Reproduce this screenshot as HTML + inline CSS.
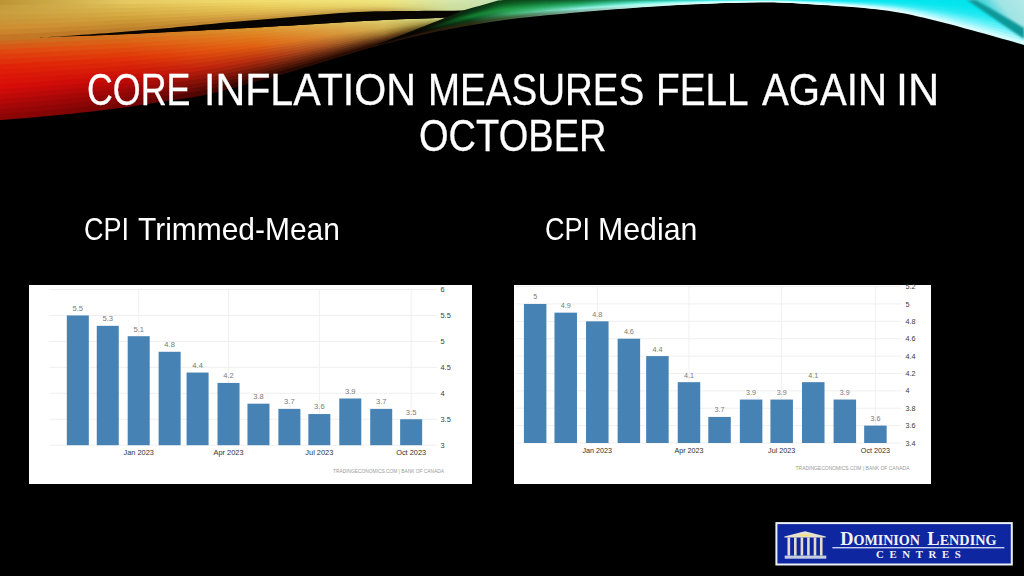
<!DOCTYPE html>
<html><head><meta charset="utf-8">
<style>
html,body{margin:0;padding:0;}
body{width:1024px;height:576px;background:#000;position:relative;overflow:hidden;font-family:"Liberation Sans",sans-serif;}
.abs{position:absolute;}
.title{position:absolute;left:0;width:1024px;text-align:center;color:#fff;font-size:45px;line-height:45px;white-space:nowrap;}
.tw{position:absolute;color:#fff;font-size:45px;line-height:45px;white-space:nowrap;transform-origin:0 0;-webkit-text-stroke:0.3px #fff;}
.sw{position:absolute;color:#fff;font-size:31.5px;line-height:31.5px;white-space:nowrap;transform-origin:0 0;}
.chart{position:absolute;background:#fff;}
</style></head>
<body>
<!--SWOOSH--><svg class="abs" style="left:0;top:0" width="1024" height="130" viewBox="0 0 1024 130"><defs><linearGradient id="g1" gradientUnits="userSpaceOnUse" x1="0" y1="0" x2="450" y2="0"><stop offset="0.0000" stop-color="#cd681d"/><stop offset="0.2844" stop-color="#d3711d"/><stop offset="0.5689" stop-color="#da932d"/><stop offset="0.8533" stop-color="#decd6d"/><stop offset="1.0000" stop-color="#c3d183"/></linearGradient><linearGradient id="g2" gradientUnits="userSpaceOnUse" x1="0" y1="0" x2="450" y2="0"><stop offset="0.0000" stop-color="#d75716"/><stop offset="0.2844" stop-color="#da6416"/><stop offset="0.5689" stop-color="#dd8926"/><stop offset="0.8533" stop-color="#dbc666"/><stop offset="1.0000" stop-color="#b9c479"/></linearGradient><linearGradient id="g3" gradientUnits="userSpaceOnUse" x1="0" y1="0" x2="450" y2="0"><stop offset="0.0000" stop-color="#e04710"/><stop offset="0.2844" stop-color="#e05710"/><stop offset="0.5689" stop-color="#e07f20"/><stop offset="0.8533" stop-color="#d8c060"/><stop offset="1.0000" stop-color="#aeb66e"/></linearGradient><linearGradient id="g4" gradientUnits="userSpaceOnUse" x1="0" y1="0" x2="450" y2="0"><stop offset="0.0000" stop-color="#e03a0d"/><stop offset="0.2844" stop-color="#e04a0d"/><stop offset="0.5689" stop-color="#e0751a"/><stop offset="0.8533" stop-color="#d5ba5a"/><stop offset="1.0000" stop-color="#a0a560"/></linearGradient><linearGradient id="g5" gradientUnits="userSpaceOnUse" x1="0" y1="0" x2="450" y2="0"><stop offset="0.0000" stop-color="#e02e0b"/><stop offset="0.2844" stop-color="#e03e0b"/><stop offset="0.5689" stop-color="#e06b16"/><stop offset="0.8533" stop-color="#d3b656"/><stop offset="1.0000" stop-color="#909350"/></linearGradient><linearGradient id="g6" gradientUnits="userSpaceOnUse" x1="0" y1="0" x2="450" y2="0"><stop offset="0.0000" stop-color="#e02108"/><stop offset="0.2844" stop-color="#e03108"/><stop offset="0.5689" stop-color="#e06110"/><stop offset="0.8533" stop-color="#d0b050"/><stop offset="1.0000" stop-color="#828242"/></linearGradient><linearGradient id="g7" gradientUnits="userSpaceOnUse" x1="0" y1="0" x2="450" y2="0"><stop offset="0.0000" stop-color="#de1c08"/><stop offset="0.2844" stop-color="#db2808"/><stop offset="0.5689" stop-color="#d75510"/><stop offset="0.8533" stop-color="#c5a349"/><stop offset="1.0000" stop-color="#6e6e35"/></linearGradient><linearGradient id="g8" gradientUnits="userSpaceOnUse" x1="0" y1="0" x2="450" y2="0"><stop offset="0.0000" stop-color="#dc1608"/><stop offset="0.2844" stop-color="#d51f08"/><stop offset="0.5689" stop-color="#cd4910"/><stop offset="0.8533" stop-color="#b99541"/><stop offset="1.0000" stop-color="#5a5a29"/></linearGradient><linearGradient id="g9" gradientUnits="userSpaceOnUse" x1="0" y1="0" x2="450" y2="0"><stop offset="0.0000" stop-color="#da1208"/><stop offset="0.2844" stop-color="#cf1608"/><stop offset="0.5689" stop-color="#c33d10"/><stop offset="0.8533" stop-color="#ad8739"/><stop offset="1.0000" stop-color="#46461d"/></linearGradient><linearGradient id="g10" gradientUnits="userSpaceOnUse" x1="0" y1="0" x2="450" y2="0"><stop offset="0.0000" stop-color="#d80c08"/><stop offset="0.2844" stop-color="#c90d08"/><stop offset="0.5689" stop-color="#b93110"/><stop offset="0.8533" stop-color="#a17931"/><stop offset="1.0000" stop-color="#323211"/></linearGradient><linearGradient id="g11" gradientUnits="userSpaceOnUse" x1="0" y1="0" x2="450" y2="0"><stop offset="0.0000" stop-color="#cd0b08"/><stop offset="0.2844" stop-color="#ba0a07"/><stop offset="0.5689" stop-color="#a4290e"/><stop offset="0.8533" stop-color="#8e6629"/><stop offset="1.0000" stop-color="#27270c"/></linearGradient><linearGradient id="g12" gradientUnits="userSpaceOnUse" x1="0" y1="0" x2="450" y2="0"><stop offset="0.0000" stop-color="#c00a08"/><stop offset="0.2844" stop-color="#ac0807"/><stop offset="0.5689" stop-color="#8d220b"/><stop offset="0.8533" stop-color="#7a5222"/><stop offset="1.0000" stop-color="#1d1d07"/></linearGradient><linearGradient id="g13" gradientUnits="userSpaceOnUse" x1="0" y1="0" x2="450" y2="0"><stop offset="0.0000" stop-color="#b40808"/><stop offset="0.2844" stop-color="#9c0706"/><stop offset="0.5689" stop-color="#771a09"/><stop offset="0.8533" stop-color="#663e1a"/><stop offset="1.0000" stop-color="#131302"/></linearGradient><linearGradient id="g14" gradientUnits="userSpaceOnUse" x1="0" y1="0" x2="450" y2="0"><stop offset="0.0000" stop-color="#a70707"/><stop offset="0.2844" stop-color="#8f0606"/><stop offset="0.5689" stop-color="#5f1406"/><stop offset="0.8533" stop-color="#522e13"/><stop offset="1.0000" stop-color="#0d0d00"/></linearGradient><linearGradient id="g15" gradientUnits="userSpaceOnUse" x1="0" y1="0" x2="450" y2="0"><stop offset="0.0000" stop-color="#9b0606"/><stop offset="0.2844" stop-color="#830505"/><stop offset="0.5689" stop-color="#460d04"/><stop offset="0.8533" stop-color="#3e1f0b"/><stop offset="1.0000" stop-color="#080800"/></linearGradient><linearGradient id="g16" gradientUnits="userSpaceOnUse" x1="0" y1="0" x2="450" y2="0"><stop offset="0.0000" stop-color="#8e0505"/><stop offset="0.2844" stop-color="#760404"/><stop offset="0.5689" stop-color="#2c0701"/><stop offset="0.8533" stop-color="#2a1004"/><stop offset="1.0000" stop-color="#020200"/></linearGradient><linearGradient id="g17" gradientUnits="userSpaceOnUse" x1="0" y1="0" x2="520" y2="0"><stop offset="0.0000" stop-color="#bc9434"/><stop offset="0.2462" stop-color="#e5ca62"/><stop offset="0.4923" stop-color="#f2dc6c"/><stop offset="0.7385" stop-color="#efe67e"/><stop offset="0.8654" stop-color="#d7e7ae"/><stop offset="1.0000" stop-color="#c0e0b8"/></linearGradient><linearGradient id="g18" gradientUnits="userSpaceOnUse" x1="0" y1="0" x2="520" y2="0"><stop offset="0.0000" stop-color="#c49c3c"/><stop offset="0.2462" stop-color="#dfbe56"/><stop offset="0.4923" stop-color="#eed464"/><stop offset="0.7385" stop-color="#ede27a"/><stop offset="0.8654" stop-color="#d5e5aa"/><stop offset="1.0000" stop-color="#c0e0b8"/></linearGradient><linearGradient id="g19" gradientUnits="userSpaceOnUse" x1="0" y1="0" x2="520" y2="0"><stop offset="0.0000" stop-color="#c89e3e"/><stop offset="0.2462" stop-color="#dab44c"/><stop offset="0.4923" stop-color="#eacc5c"/><stop offset="0.7385" stop-color="#ebde76"/><stop offset="0.8654" stop-color="#d3e3a6"/><stop offset="1.0000" stop-color="#c0e0b8"/></linearGradient><linearGradient id="g20" gradientUnits="userSpaceOnUse" x1="0" y1="0" x2="520" y2="0"><stop offset="0.0000" stop-color="#c89a3a"/><stop offset="0.2462" stop-color="#d6ac44"/><stop offset="0.4923" stop-color="#e6c454"/><stop offset="0.7385" stop-color="#e9da72"/><stop offset="0.8654" stop-color="#d1e1a2"/><stop offset="1.0000" stop-color="#c0e0b8"/></linearGradient><linearGradient id="g21" gradientUnits="userSpaceOnUse" x1="0" y1="0" x2="520" y2="0"><stop offset="0.0000" stop-color="#ca9436"/><stop offset="0.2462" stop-color="#d1a23c"/><stop offset="0.4923" stop-color="#e1ba4e"/><stop offset="0.7385" stop-color="#e4d26c"/><stop offset="0.8654" stop-color="#cfe09f"/><stop offset="1.0000" stop-color="#c0e0b8"/></linearGradient><linearGradient id="g22" gradientUnits="userSpaceOnUse" x1="0" y1="0" x2="520" y2="0"><stop offset="0.0000" stop-color="#ce8e32"/><stop offset="0.2462" stop-color="#cb9634"/><stop offset="0.4923" stop-color="#dbae4a"/><stop offset="0.7385" stop-color="#dcc664"/><stop offset="0.8654" stop-color="#cde09d"/><stop offset="1.0000" stop-color="#c0e0b8"/></linearGradient><linearGradient id="g23" gradientUnits="userSpaceOnUse" x1="0" y1="0" x2="520" y2="0"><stop offset="0.0000" stop-color="#cc842c"/><stop offset="0.2462" stop-color="#c48a2e"/><stop offset="0.4923" stop-color="#d2a042"/><stop offset="0.7385" stop-color="#d2b85a"/><stop offset="0.8654" stop-color="#cbde9b"/><stop offset="1.0000" stop-color="#c0e0b8"/></linearGradient><linearGradient id="g24" gradientUnits="userSpaceOnUse" x1="0" y1="0" x2="520" y2="0"><stop offset="0.0000" stop-color="#c47624"/><stop offset="0.2462" stop-color="#bc7e2a"/><stop offset="0.4923" stop-color="#c69036"/><stop offset="0.7385" stop-color="#c6a84e"/><stop offset="0.8654" stop-color="#c9da99"/><stop offset="1.0000" stop-color="#c0e0b8"/></linearGradient><linearGradient id="g25" gradientUnits="userSpaceOnUse" x1="378" y1="0" x2="1024" y2="0"><stop offset="0.0000" stop-color="#0e0800"/><stop offset="0.0650" stop-color="#0f0f00"/><stop offset="0.1424" stop-color="#082b11"/><stop offset="0.2074" stop-color="#0b4617"/><stop offset="0.3127" stop-color="#116835"/><stop offset="0.4056" stop-color="#25a779"/><stop offset="0.5294" stop-color="#35e2e2"/><stop offset="0.6842" stop-color="#15e5f1"/><stop offset="0.8080" stop-color="#02e5f0"/><stop offset="1.0000" stop-color="#00e1e9"/></linearGradient><linearGradient id="g26" gradientUnits="userSpaceOnUse" x1="378" y1="0" x2="1024" y2="0"><stop offset="0.0000" stop-color="#0b0700"/><stop offset="0.0650" stop-color="#0d0d00"/><stop offset="0.1424" stop-color="#093012"/><stop offset="0.2074" stop-color="#0d521d"/><stop offset="0.3127" stop-color="#13783e"/><stop offset="0.4056" stop-color="#2eb58b"/><stop offset="0.5294" stop-color="#3ee6e7"/><stop offset="0.6842" stop-color="#1ee7f2"/><stop offset="0.8080" stop-color="#07e6f0"/><stop offset="1.0000" stop-color="#00e2ea"/></linearGradient><linearGradient id="g27" gradientUnits="userSpaceOnUse" x1="378" y1="0" x2="1024" y2="0"><stop offset="0.0000" stop-color="#080600"/><stop offset="0.0650" stop-color="#0a0a00"/><stop offset="0.1424" stop-color="#093513"/><stop offset="0.2074" stop-color="#0e5e22"/><stop offset="0.3127" stop-color="#168847"/><stop offset="0.4056" stop-color="#37c29e"/><stop offset="0.5294" stop-color="#47eaeb"/><stop offset="0.6842" stop-color="#27eaf3"/><stop offset="0.8080" stop-color="#0be7f0"/><stop offset="1.0000" stop-color="#00e3eb"/></linearGradient><linearGradient id="g28" gradientUnits="userSpaceOnUse" x1="378" y1="0" x2="1024" y2="0"><stop offset="0.0000" stop-color="#050500"/><stop offset="0.0650" stop-color="#080800"/><stop offset="0.1424" stop-color="#0a3a14"/><stop offset="0.2074" stop-color="#106a28"/><stop offset="0.3127" stop-color="#189850"/><stop offset="0.4056" stop-color="#40d0b0"/><stop offset="0.5294" stop-color="#50eef0"/><stop offset="0.6842" stop-color="#30ecf4"/><stop offset="0.8080" stop-color="#10e8f0"/><stop offset="1.0000" stop-color="#00e4ec"/></linearGradient><linearGradient id="g29" gradientUnits="userSpaceOnUse" x1="378" y1="0" x2="1024" y2="0"><stop offset="0.0000" stop-color="#040400"/><stop offset="0.0650" stop-color="#070700"/><stop offset="0.1424" stop-color="#0c4e1c"/><stop offset="0.2074" stop-color="#157931"/><stop offset="0.3127" stop-color="#23a362"/><stop offset="0.4056" stop-color="#4ed9be"/><stop offset="0.5294" stop-color="#5ef1f2"/><stop offset="0.6842" stop-color="#42eef5"/><stop offset="0.8080" stop-color="#1ee9f1"/><stop offset="1.0000" stop-color="#05e5ed"/></linearGradient><linearGradient id="g30" gradientUnits="userSpaceOnUse" x1="378" y1="0" x2="1024" y2="0"><stop offset="0.0000" stop-color="#040400"/><stop offset="0.0650" stop-color="#060600"/><stop offset="0.1424" stop-color="#0d6224"/><stop offset="0.2074" stop-color="#19893a"/><stop offset="0.3127" stop-color="#2faf75"/><stop offset="0.4056" stop-color="#5be2cb"/><stop offset="0.5294" stop-color="#6bf4f5"/><stop offset="0.6842" stop-color="#55f1f6"/><stop offset="0.8080" stop-color="#2beaf2"/><stop offset="1.0000" stop-color="#09e6ee"/></linearGradient><linearGradient id="g31" gradientUnits="userSpaceOnUse" x1="378" y1="0" x2="1024" y2="0"><stop offset="0.0000" stop-color="#030300"/><stop offset="0.0650" stop-color="#050500"/><stop offset="0.1424" stop-color="#0f762c"/><stop offset="0.2074" stop-color="#1e9843"/><stop offset="0.3127" stop-color="#3aba87"/><stop offset="0.4056" stop-color="#69ebd9"/><stop offset="0.5294" stop-color="#79f7f7"/><stop offset="0.6842" stop-color="#67f3f7"/><stop offset="0.8080" stop-color="#39ebf3"/><stop offset="1.0000" stop-color="#0ee7ef"/></linearGradient><linearGradient id="g32" gradientUnits="userSpaceOnUse" x1="378" y1="0" x2="1024" y2="0"><stop offset="0.0000" stop-color="#030300"/><stop offset="0.0650" stop-color="#060500"/><stop offset="0.1424" stop-color="#0f772d"/><stop offset="0.2074" stop-color="#25a24e"/><stop offset="0.3127" stop-color="#4bc79b"/><stop offset="0.4056" stop-color="#79f2e2"/><stop offset="0.5294" stop-color="#89f9f9"/><stop offset="0.6842" stop-color="#79f5f9"/><stop offset="0.8080" stop-color="#4eeef6"/><stop offset="1.0000" stop-color="#1be9f1"/></linearGradient><linearGradient id="g33" gradientUnits="userSpaceOnUse" x1="378" y1="0" x2="1024" y2="0"><stop offset="0.0000" stop-color="#040300"/><stop offset="0.0650" stop-color="#070500"/><stop offset="0.1424" stop-color="#0d6526"/><stop offset="0.2074" stop-color="#2ea759"/><stop offset="0.3127" stop-color="#62d5b2"/><stop offset="0.4056" stop-color="#8bf6e7"/><stop offset="0.5294" stop-color="#9bfbfb"/><stop offset="0.6842" stop-color="#8bf7fb"/><stop offset="0.8080" stop-color="#69f1f9"/><stop offset="1.0000" stop-color="#32ebf3"/></linearGradient><linearGradient id="g34" gradientUnits="userSpaceOnUse" x1="378" y1="0" x2="1024" y2="0"><stop offset="0.0000" stop-color="#040300"/><stop offset="0.0650" stop-color="#090500"/><stop offset="0.1424" stop-color="#0c521f"/><stop offset="0.2074" stop-color="#37ab65"/><stop offset="0.3127" stop-color="#79e2c9"/><stop offset="0.4056" stop-color="#9efbeb"/><stop offset="0.5294" stop-color="#aefdfd"/><stop offset="0.6842" stop-color="#9efafd"/><stop offset="0.8080" stop-color="#85f5fc"/><stop offset="1.0000" stop-color="#49eef6"/></linearGradient><linearGradient id="g35" gradientUnits="userSpaceOnUse" x1="378" y1="0" x2="1024" y2="0"><stop offset="0.0000" stop-color="#050300"/><stop offset="0.0650" stop-color="#0a0500"/><stop offset="0.1424" stop-color="#0a4018"/><stop offset="0.2074" stop-color="#40b070"/><stop offset="0.3127" stop-color="#90f0e0"/><stop offset="0.4056" stop-color="#b0fff0"/><stop offset="0.5294" stop-color="#c0ffff"/><stop offset="0.6842" stop-color="#b0fcff"/><stop offset="0.8080" stop-color="#a0f8ff"/><stop offset="1.0000" stop-color="#60f0f8"/></linearGradient><linearGradient id="g36" gradientUnits="userSpaceOnUse" x1="378" y1="0" x2="1024" y2="0"><stop offset="0.0000" stop-color="#0d0702"/><stop offset="0.0650" stop-color="#150a02"/><stop offset="0.1424" stop-color="#153916"/><stop offset="0.2074" stop-color="#409760"/><stop offset="0.3127" stop-color="#8bdece"/><stop offset="0.4056" stop-color="#b5fbee"/><stop offset="0.5294" stop-color="#c9ffff"/><stop offset="0.6842" stop-color="#c0fdff"/><stop offset="0.8080" stop-color="#b5faff"/><stop offset="1.0000" stop-color="#85f4fa"/></linearGradient><linearGradient id="g37" gradientUnits="userSpaceOnUse" x1="378" y1="0" x2="1024" y2="0"><stop offset="0.0000" stop-color="#140a05"/><stop offset="0.0650" stop-color="#201005"/><stop offset="0.1424" stop-color="#203213"/><stop offset="0.2074" stop-color="#407e50"/><stop offset="0.3127" stop-color="#87cbbb"/><stop offset="0.4056" stop-color="#b9f6eb"/><stop offset="0.5294" stop-color="#d2ffff"/><stop offset="0.6842" stop-color="#d0feff"/><stop offset="0.8080" stop-color="#c9fcff"/><stop offset="1.0000" stop-color="#a9f9fc"/></linearGradient><linearGradient id="g38" gradientUnits="userSpaceOnUse" x1="378" y1="0" x2="1024" y2="0"><stop offset="0.0000" stop-color="#1c0e07"/><stop offset="0.0650" stop-color="#2b1507"/><stop offset="0.1424" stop-color="#2b2b11"/><stop offset="0.2074" stop-color="#406540"/><stop offset="0.3127" stop-color="#82b9a9"/><stop offset="0.4056" stop-color="#bef2e9"/><stop offset="0.5294" stop-color="#dbffff"/><stop offset="0.6842" stop-color="#e0ffff"/><stop offset="0.8080" stop-color="#defeff"/><stop offset="1.0000" stop-color="#cefdfe"/></linearGradient><linearGradient id="corner" gradientUnits="userSpaceOnUse" x1="1000" y1="20" x2="1024" y2="0"><stop offset="0" stop-color="#50d8dc"/><stop offset="0.35" stop-color="#a0e4e4"/><stop offset="1" stop-color="#b4e8e8"/></linearGradient><filter id="blur3" x="-5%" y="-100%" width="110%" height="300%"><feGaussianBlur stdDeviation="2.5"/></filter><filter id="blur1" x="-5%" y="-50%" width="110%" height="200%"><feGaussianBlur stdDeviation="1.2"/></filter></defs><path d="M0.0 39.60 L8.0 39.19 L16.0 38.78 L24.0 38.39 L32.0 38.00 L40.0 37.63 L48.0 37.27 L56.0 36.92 L64.0 36.59 L72.0 36.27 L80.0 35.95 L88.0 35.64 L96.0 35.33 L104.0 35.01 L112.0 34.69 L120.0 34.35 L128.0 34.00 L136.0 33.64 L144.0 33.26 L152.0 32.89 L160.0 32.50 L168.0 32.11 L176.0 31.71 L184.0 31.31 L192.0 30.90 L200.0 30.49 L208.0 30.07 L216.0 29.65 L224.0 29.22 L232.0 28.80 L240.0 28.37 L248.0 27.93 L256.0 27.50 L264.0 27.06 L272.0 26.59 L280.0 26.12 L288.0 25.63 L296.0 25.13 L304.0 24.63 L312.0 24.13 L320.0 23.63 L328.0 23.13 L336.0 22.64 L344.0 22.16 L352.0 21.69 L360.0 21.23 L368.0 20.80 L376.0 20.39 L384.0 20.00 L392.0 19.65 L400.0 19.34 L408.0 19.05 L416.0 18.77 L424.0 18.48 L432.0 18.16 L440.0 17.80 L448.0 17.39 L450.0 17.27 L450.0 18.94 L448.0 19.08 L440.0 19.56 L432.0 20.00 L424.0 20.41 L416.0 20.79 L408.0 21.17 L400.0 21.57 L392.0 21.98 L384.0 22.44 L376.0 22.93 L368.0 23.46 L360.0 24.02 L352.0 24.59 L344.0 25.19 L336.0 25.79 L328.0 26.41 L320.0 27.03 L312.0 27.65 L304.0 28.27 L296.0 28.89 L288.0 29.51 L280.0 30.11 L272.0 30.70 L264.0 31.27 L256.0 31.83 L248.0 32.37 L240.0 32.91 L232.0 33.44 L224.0 33.98 L216.0 34.51 L208.0 35.02 L200.0 35.52 L192.0 35.99 L184.0 36.45 L176.0 36.90 L168.0 37.34 L160.0 37.78 L152.0 38.22 L144.0 38.66 L136.0 39.09 L128.0 39.50 L120.0 39.90 L112.0 40.28 L104.0 40.64 L96.0 41.00 L88.0 41.35 L80.0 41.70 L72.0 42.04 L64.0 42.40 L56.0 42.76 L48.0 43.13 L40.0 43.51 L32.0 43.91 L24.0 44.31 L16.0 44.72 L8.0 45.14 L0.0 45.56Z" fill="url(#g1)"/><path d="M0.0 44.56 L8.0 44.14 L16.0 43.72 L24.0 43.31 L32.0 42.91 L40.0 42.51 L48.0 42.13 L56.0 41.76 L64.0 41.40 L72.0 41.04 L80.0 40.70 L88.0 40.35 L96.0 40.00 L104.0 39.64 L112.0 39.28 L120.0 38.90 L128.0 38.50 L136.0 38.09 L144.0 37.66 L152.0 37.22 L160.0 36.78 L168.0 36.34 L176.0 35.90 L184.0 35.45 L192.0 34.99 L200.0 34.52 L208.0 34.02 L216.0 33.51 L224.0 32.98 L232.0 32.44 L240.0 31.91 L248.0 31.37 L256.0 30.83 L264.0 30.27 L272.0 29.70 L280.0 29.11 L288.0 28.51 L296.0 27.89 L304.0 27.27 L312.0 26.65 L320.0 26.03 L328.0 25.41 L336.0 24.79 L344.0 24.19 L352.0 23.59 L360.0 23.02 L368.0 22.46 L376.0 21.93 L384.0 21.44 L392.0 20.98 L400.0 20.57 L408.0 20.17 L416.0 19.79 L424.0 19.41 L432.0 19.00 L440.0 18.56 L448.0 18.08 L450.0 17.94 L450.0 19.61 L448.0 19.76 L440.0 20.32 L432.0 20.84 L424.0 21.34 L416.0 21.82 L408.0 22.30 L400.0 22.79 L392.0 23.31 L384.0 23.88 L376.0 24.48 L368.0 25.12 L360.0 25.80 L352.0 26.50 L344.0 27.22 L336.0 27.95 L328.0 28.69 L320.0 29.42 L312.0 30.16 L304.0 30.91 L296.0 31.65 L288.0 32.38 L280.0 33.10 L272.0 33.80 L264.0 34.49 L256.0 35.15 L248.0 35.80 L240.0 36.45 L232.0 37.09 L224.0 37.74 L216.0 38.37 L208.0 38.98 L200.0 39.55 L192.0 40.09 L184.0 40.60 L176.0 41.09 L168.0 41.57 L160.0 42.06 L152.0 42.56 L144.0 43.05 L136.0 43.54 L128.0 44.00 L120.0 44.44 L112.0 44.86 L104.0 45.27 L96.0 45.67 L88.0 46.06 L80.0 46.44 L72.0 46.82 L64.0 47.20 L56.0 47.59 L48.0 47.99 L40.0 48.40 L32.0 48.81 L24.0 49.23 L16.0 49.66 L8.0 50.09 L0.0 50.53Z" fill="url(#g2)"/><path d="M0.0 49.53 L8.0 49.09 L16.0 48.66 L24.0 48.23 L32.0 47.81 L40.0 47.40 L48.0 46.99 L56.0 46.59 L64.0 46.20 L72.0 45.82 L80.0 45.44 L88.0 45.06 L96.0 44.67 L104.0 44.27 L112.0 43.86 L120.0 43.44 L128.0 43.00 L136.0 42.54 L144.0 42.05 L152.0 41.56 L160.0 41.06 L168.0 40.57 L176.0 40.09 L184.0 39.60 L192.0 39.09 L200.0 38.55 L208.0 37.98 L216.0 37.37 L224.0 36.74 L232.0 36.09 L240.0 35.45 L248.0 34.80 L256.0 34.15 L264.0 33.49 L272.0 32.80 L280.0 32.10 L288.0 31.38 L296.0 30.65 L304.0 29.91 L312.0 29.16 L320.0 28.42 L328.0 27.69 L336.0 26.95 L344.0 26.22 L352.0 25.50 L360.0 24.80 L368.0 24.12 L376.0 23.48 L384.0 22.88 L392.0 22.31 L400.0 21.79 L408.0 21.30 L416.0 20.82 L424.0 20.34 L432.0 19.84 L440.0 19.32 L448.0 18.76 L450.0 18.61 L450.0 20.28 L448.0 20.45 L440.0 21.08 L432.0 21.68 L424.0 22.26 L416.0 22.84 L408.0 23.42 L400.0 24.02 L392.0 24.65 L384.0 25.31 L376.0 26.03 L368.0 26.79 L360.0 27.58 L352.0 28.40 L344.0 29.25 L336.0 30.10 L328.0 30.96 L320.0 31.82 L312.0 32.68 L304.0 33.55 L296.0 34.41 L288.0 35.26 L280.0 36.09 L272.0 36.91 L264.0 37.70 L256.0 38.48 L248.0 39.24 L240.0 39.99 L232.0 40.74 L224.0 41.49 L216.0 42.23 L208.0 42.93 L200.0 43.58 L192.0 44.18 L184.0 44.74 L176.0 45.28 L168.0 45.81 L160.0 46.34 L152.0 46.89 L144.0 47.45 L136.0 47.99 L128.0 48.50 L120.0 48.99 L112.0 49.45 L104.0 49.90 L96.0 50.34 L88.0 50.76 L80.0 51.18 L72.0 51.60 L64.0 52.01 L56.0 52.43 L48.0 52.85 L40.0 53.28 L32.0 53.72 L24.0 54.16 L16.0 54.60 L8.0 55.04 L0.0 55.49Z" fill="url(#g3)"/><path d="M0.0 54.49 L8.0 54.04 L16.0 53.60 L24.0 53.16 L32.0 52.72 L40.0 52.28 L48.0 51.85 L56.0 51.43 L64.0 51.01 L72.0 50.60 L80.0 50.18 L88.0 49.76 L96.0 49.34 L104.0 48.90 L112.0 48.45 L120.0 47.99 L128.0 47.50 L136.0 46.99 L144.0 46.45 L152.0 45.89 L160.0 45.34 L168.0 44.81 L176.0 44.28 L184.0 43.74 L192.0 43.18 L200.0 42.58 L208.0 41.93 L216.0 41.23 L224.0 40.49 L232.0 39.74 L240.0 38.99 L248.0 38.24 L256.0 37.48 L264.0 36.70 L272.0 35.91 L280.0 35.09 L288.0 34.26 L296.0 33.41 L304.0 32.55 L312.0 31.68 L320.0 30.82 L328.0 29.96 L336.0 29.10 L344.0 28.25 L352.0 27.40 L360.0 26.58 L368.0 25.79 L376.0 25.03 L384.0 24.31 L392.0 23.65 L400.0 23.02 L408.0 22.42 L416.0 21.84 L424.0 21.26 L432.0 20.68 L440.0 20.08 L448.0 19.45 L450.0 19.28 L450.0 20.95 L448.0 21.14 L440.0 21.84 L432.0 22.52 L424.0 23.19 L416.0 23.87 L408.0 24.55 L400.0 25.25 L392.0 25.98 L384.0 26.75 L376.0 27.57 L368.0 28.45 L360.0 29.36 L352.0 30.31 L344.0 31.28 L336.0 32.26 L328.0 33.24 L320.0 34.22 L312.0 35.20 L304.0 36.19 L296.0 37.17 L288.0 38.14 L280.0 39.09 L272.0 40.01 L264.0 40.92 L256.0 41.81 L248.0 42.67 L240.0 43.53 L232.0 44.38 L224.0 45.25 L216.0 46.09 L208.0 46.89 L200.0 47.62 L192.0 48.27 L184.0 48.88 L176.0 49.47 L168.0 50.04 L160.0 50.63 L152.0 51.23 L144.0 51.84 L136.0 52.44 L128.0 53.00 L120.0 53.53 L112.0 54.04 L104.0 54.53 L96.0 55.01 L88.0 55.47 L80.0 55.93 L72.0 56.37 L64.0 56.82 L56.0 57.26 L48.0 57.71 L40.0 58.16 L32.0 58.62 L24.0 59.08 L16.0 59.54 L8.0 60.00 L0.0 60.45Z" fill="url(#g4)"/><path d="M0.0 59.45 L8.0 59.00 L16.0 58.54 L24.0 58.08 L32.0 57.62 L40.0 57.16 L48.0 56.71 L56.0 56.26 L64.0 55.82 L72.0 55.37 L80.0 54.93 L88.0 54.47 L96.0 54.01 L104.0 53.53 L112.0 53.04 L120.0 52.53 L128.0 52.00 L136.0 51.44 L144.0 50.84 L152.0 50.23 L160.0 49.63 L168.0 49.04 L176.0 48.47 L184.0 47.88 L192.0 47.27 L200.0 46.62 L208.0 45.89 L216.0 45.09 L224.0 44.25 L232.0 43.38 L240.0 42.53 L248.0 41.67 L256.0 40.81 L264.0 39.92 L272.0 39.01 L280.0 38.09 L288.0 37.14 L296.0 36.17 L304.0 35.19 L312.0 34.20 L320.0 33.22 L328.0 32.24 L336.0 31.26 L344.0 30.28 L352.0 29.31 L360.0 28.36 L368.0 27.45 L376.0 26.57 L384.0 25.75 L392.0 24.98 L400.0 24.25 L408.0 23.55 L416.0 22.87 L424.0 22.19 L432.0 21.52 L440.0 20.84 L448.0 20.14 L450.0 19.95 L450.0 21.62 L448.0 21.82 L440.0 22.60 L432.0 23.36 L424.0 24.12 L416.0 24.89 L408.0 25.67 L400.0 26.47 L392.0 27.31 L384.0 28.19 L376.0 29.12 L368.0 30.11 L360.0 31.14 L352.0 32.21 L344.0 33.31 L336.0 34.41 L328.0 35.52 L320.0 36.62 L312.0 37.72 L304.0 38.82 L296.0 39.93 L288.0 41.02 L280.0 42.08 L272.0 43.12 L264.0 44.14 L256.0 45.13 L248.0 46.11 L240.0 47.06 L232.0 48.03 L224.0 49.00 L216.0 49.95 L208.0 50.84 L200.0 51.65 L192.0 52.37 L184.0 53.03 L176.0 53.65 L168.0 54.27 L160.0 54.91 L152.0 55.57 L144.0 56.23 L136.0 56.89 L128.0 57.50 L120.0 58.08 L112.0 58.63 L104.0 59.16 L96.0 59.68 L88.0 60.18 L80.0 60.67 L72.0 61.15 L64.0 61.62 L56.0 62.10 L48.0 62.57 L40.0 63.05 L32.0 63.53 L24.0 64.00 L16.0 64.48 L8.0 64.95 L0.0 65.41Z" fill="url(#g5)"/><path d="M0.0 64.41 L8.0 63.95 L16.0 63.48 L24.0 63.00 L32.0 62.53 L40.0 62.05 L48.0 61.57 L56.0 61.10 L64.0 60.62 L72.0 60.15 L80.0 59.67 L88.0 59.18 L96.0 58.68 L104.0 58.16 L112.0 57.63 L120.0 57.08 L128.0 56.50 L136.0 55.89 L144.0 55.23 L152.0 54.57 L160.0 53.91 L168.0 53.27 L176.0 52.65 L184.0 52.03 L192.0 51.37 L200.0 50.65 L208.0 49.84 L216.0 48.95 L224.0 48.00 L232.0 47.03 L240.0 46.06 L248.0 45.11 L256.0 44.13 L264.0 43.14 L272.0 42.12 L280.0 41.08 L288.0 40.02 L296.0 38.93 L304.0 37.82 L312.0 36.72 L320.0 35.62 L328.0 34.52 L336.0 33.41 L344.0 32.31 L352.0 31.21 L360.0 30.14 L368.0 29.11 L376.0 28.12 L384.0 27.19 L392.0 26.31 L400.0 25.47 L408.0 24.67 L416.0 23.89 L424.0 23.12 L432.0 22.36 L440.0 21.60 L448.0 20.82 L450.0 20.62 L450.0 22.29 L448.0 22.51 L440.0 23.36 L432.0 24.20 L424.0 25.05 L416.0 25.91 L408.0 26.79 L400.0 27.70 L392.0 28.64 L384.0 29.62 L376.0 30.67 L368.0 31.77 L360.0 32.93 L352.0 34.12 L344.0 35.34 L336.0 36.57 L328.0 37.80 L320.0 39.02 L312.0 40.23 L304.0 41.46 L296.0 42.68 L288.0 43.89 L280.0 45.07 L272.0 46.22 L264.0 47.35 L256.0 48.46 L248.0 49.54 L240.0 50.60 L232.0 51.68 L224.0 52.76 L216.0 53.81 L208.0 54.79 L200.0 55.68 L192.0 56.46 L184.0 57.17 L176.0 57.84 L168.0 58.51 L160.0 59.19 L152.0 59.90 L144.0 60.63 L136.0 61.34 L128.0 62.00 L120.0 62.62 L112.0 63.22 L104.0 63.79 L96.0 64.35 L88.0 64.89 L80.0 65.41 L72.0 65.93 L64.0 66.43 L56.0 66.93 L48.0 67.43 L40.0 67.93 L32.0 68.43 L24.0 68.93 L16.0 69.42 L8.0 69.90 L0.0 70.38Z" fill="url(#g6)"/><path d="M0.0 69.38 L8.0 68.90 L16.0 68.42 L24.0 67.93 L32.0 67.43 L40.0 66.93 L48.0 66.43 L56.0 65.93 L64.0 65.43 L72.0 64.93 L80.0 64.41 L88.0 63.89 L96.0 63.35 L104.0 62.79 L112.0 62.22 L120.0 61.62 L128.0 61.00 L136.0 60.34 L144.0 59.63 L152.0 58.90 L160.0 58.19 L168.0 57.51 L176.0 56.84 L184.0 56.17 L192.0 55.46 L200.0 54.68 L208.0 53.79 L216.0 52.81 L224.0 51.76 L232.0 50.68 L240.0 49.60 L248.0 48.54 L256.0 47.46 L264.0 46.35 L272.0 45.22 L280.0 44.07 L288.0 42.89 L296.0 41.68 L304.0 40.46 L312.0 39.23 L320.0 38.02 L328.0 36.80 L336.0 35.57 L344.0 34.34 L352.0 33.12 L360.0 31.93 L368.0 30.77 L376.0 29.67 L384.0 28.62 L392.0 27.64 L400.0 26.70 L408.0 25.79 L416.0 24.91 L424.0 24.05 L432.0 23.20 L440.0 22.36 L448.0 21.51 L450.0 21.29 L450.0 22.96 L448.0 23.20 L440.0 24.12 L432.0 25.05 L424.0 25.98 L416.0 26.94 L408.0 27.92 L400.0 28.93 L392.0 29.97 L384.0 31.06 L376.0 32.21 L368.0 33.43 L360.0 34.71 L352.0 36.02 L344.0 37.37 L336.0 38.72 L328.0 40.08 L320.0 41.42 L312.0 42.75 L304.0 44.10 L296.0 45.44 L288.0 46.77 L280.0 48.07 L272.0 49.33 L264.0 50.57 L256.0 51.78 L248.0 52.97 L240.0 54.14 L232.0 55.32 L224.0 56.51 L216.0 57.67 L208.0 58.75 L200.0 59.71 L192.0 60.55 L184.0 61.31 L176.0 62.03 L168.0 62.74 L160.0 63.47 L152.0 64.24 L144.0 65.02 L136.0 65.79 L128.0 66.50 L120.0 67.17 L112.0 67.81 L104.0 68.42 L96.0 69.02 L88.0 69.59 L80.0 70.16 L72.0 70.70 L64.0 71.24 L56.0 71.77 L48.0 72.29 L40.0 72.82 L32.0 73.34 L24.0 73.85 L16.0 74.36 L8.0 74.85 L0.0 75.34Z" fill="url(#g7)"/><path d="M0.0 74.34 L8.0 73.85 L16.0 73.36 L24.0 72.85 L32.0 72.34 L40.0 71.82 L48.0 71.29 L56.0 70.77 L64.0 70.24 L72.0 69.70 L80.0 69.16 L88.0 68.59 L96.0 68.02 L104.0 67.42 L112.0 66.81 L120.0 66.17 L128.0 65.50 L136.0 64.79 L144.0 64.02 L152.0 63.24 L160.0 62.47 L168.0 61.74 L176.0 61.03 L184.0 60.31 L192.0 59.55 L200.0 58.71 L208.0 57.75 L216.0 56.67 L224.0 55.51 L232.0 54.32 L240.0 53.14 L248.0 51.97 L256.0 50.78 L264.0 49.57 L272.0 48.33 L280.0 47.07 L288.0 45.77 L296.0 44.44 L304.0 43.10 L312.0 41.75 L320.0 40.42 L328.0 39.08 L336.0 37.72 L344.0 36.37 L352.0 35.02 L360.0 33.71 L368.0 32.43 L376.0 31.21 L384.0 30.06 L392.0 28.97 L400.0 27.93 L408.0 26.92 L416.0 25.94 L424.0 24.98 L432.0 24.05 L440.0 23.12 L448.0 22.20 L450.0 21.96 L450.0 23.63 L448.0 23.88 L440.0 24.88 L432.0 25.89 L424.0 26.91 L416.0 27.96 L408.0 29.04 L400.0 30.15 L392.0 31.31 L384.0 32.50 L376.0 33.76 L368.0 35.10 L360.0 36.49 L352.0 37.93 L344.0 39.40 L336.0 40.88 L328.0 42.35 L320.0 43.81 L312.0 45.27 L304.0 46.74 L296.0 48.20 L288.0 49.65 L280.0 51.06 L272.0 52.44 L264.0 53.79 L256.0 55.11 L248.0 56.41 L240.0 57.68 L232.0 58.97 L224.0 60.27 L216.0 61.53 L208.0 62.70 L200.0 63.74 L192.0 64.64 L184.0 65.46 L176.0 66.22 L168.0 66.97 L160.0 67.75 L152.0 68.58 L144.0 69.42 L136.0 70.24 L128.0 71.00 L120.0 71.71 L112.0 72.39 L104.0 73.05 L96.0 73.69 L88.0 74.30 L80.0 74.90 L72.0 75.48 L64.0 76.04 L56.0 76.60 L48.0 77.15 L40.0 77.70 L32.0 78.24 L24.0 78.77 L16.0 79.30 L8.0 79.80 L0.0 80.30Z" fill="url(#g8)"/><path d="M0.0 79.30 L8.0 78.80 L16.0 78.30 L24.0 77.77 L32.0 77.24 L40.0 76.70 L48.0 76.15 L56.0 75.60 L64.0 75.04 L72.0 74.48 L80.0 73.90 L88.0 73.30 L96.0 72.69 L104.0 72.05 L112.0 71.39 L120.0 70.71 L128.0 70.00 L136.0 69.24 L144.0 68.42 L152.0 67.58 L160.0 66.75 L168.0 65.97 L176.0 65.22 L184.0 64.46 L192.0 63.64 L200.0 62.74 L208.0 61.70 L216.0 60.53 L224.0 59.27 L232.0 57.97 L240.0 56.68 L248.0 55.41 L256.0 54.11 L264.0 52.79 L272.0 51.44 L280.0 50.06 L288.0 48.65 L296.0 47.20 L304.0 45.74 L312.0 44.27 L320.0 42.81 L328.0 41.35 L336.0 39.88 L344.0 38.40 L352.0 36.93 L360.0 35.49 L368.0 34.10 L376.0 32.76 L384.0 31.50 L392.0 30.31 L400.0 29.15 L408.0 28.04 L416.0 26.96 L424.0 25.91 L432.0 24.89 L440.0 23.88 L448.0 22.88 L450.0 22.63 L450.0 24.30 L448.0 24.57 L440.0 25.64 L432.0 26.73 L424.0 27.84 L416.0 28.99 L408.0 30.17 L400.0 31.38 L392.0 32.64 L384.0 33.94 L376.0 35.31 L368.0 36.76 L360.0 38.27 L352.0 39.84 L344.0 41.43 L336.0 43.03 L328.0 44.63 L320.0 46.21 L312.0 47.79 L304.0 49.38 L296.0 50.96 L288.0 52.52 L280.0 54.05 L272.0 55.54 L264.0 57.00 L256.0 58.44 L248.0 59.84 L240.0 61.22 L232.0 62.62 L224.0 64.02 L216.0 65.39 L208.0 66.66 L200.0 67.78 L192.0 68.74 L184.0 69.60 L176.0 70.41 L168.0 71.20 L160.0 72.03 L152.0 72.91 L144.0 73.81 L136.0 74.69 L128.0 75.50 L120.0 76.26 L112.0 76.98 L104.0 77.68 L96.0 78.36 L88.0 79.01 L80.0 79.64 L72.0 80.26 L64.0 80.85 L56.0 81.44 L48.0 82.01 L40.0 82.59 L32.0 83.15 L24.0 83.70 L16.0 84.23 L8.0 84.76 L0.0 85.26Z" fill="url(#g9)"/><path d="M0.0 84.26 L8.0 83.76 L16.0 83.23 L24.0 82.70 L32.0 82.15 L40.0 81.59 L48.0 81.01 L56.0 80.44 L64.0 79.85 L72.0 79.26 L80.0 78.64 L88.0 78.01 L96.0 77.36 L104.0 76.68 L112.0 75.98 L120.0 75.26 L128.0 74.50 L136.0 73.69 L144.0 72.81 L152.0 71.91 L160.0 71.03 L168.0 70.20 L176.0 69.41 L184.0 68.60 L192.0 67.74 L200.0 66.78 L208.0 65.66 L216.0 64.39 L224.0 63.02 L232.0 61.62 L240.0 60.22 L248.0 58.84 L256.0 57.44 L264.0 56.00 L272.0 54.54 L280.0 53.05 L288.0 51.52 L296.0 49.96 L304.0 48.38 L312.0 46.79 L320.0 45.21 L328.0 43.63 L336.0 42.03 L344.0 40.43 L352.0 38.84 L360.0 37.27 L368.0 35.76 L376.0 34.31 L384.0 32.94 L392.0 31.64 L400.0 30.38 L408.0 29.17 L416.0 27.99 L424.0 26.84 L432.0 25.73 L440.0 24.64 L448.0 23.57 L450.0 23.30 L450.0 24.98 L448.0 25.26 L440.0 26.40 L432.0 27.57 L424.0 28.77 L416.0 30.01 L408.0 31.29 L400.0 32.61 L392.0 33.97 L384.0 35.38 L376.0 36.85 L368.0 38.42 L360.0 40.06 L352.0 41.74 L344.0 43.46 L336.0 45.19 L328.0 46.91 L320.0 48.61 L312.0 50.30 L304.0 52.01 L296.0 53.72 L288.0 55.40 L280.0 57.04 L272.0 58.65 L264.0 60.22 L256.0 61.76 L248.0 63.28 L240.0 64.76 L232.0 66.26 L224.0 67.78 L216.0 69.25 L208.0 70.61 L200.0 71.81 L192.0 72.83 L184.0 73.74 L176.0 74.60 L168.0 75.44 L160.0 76.31 L152.0 77.25 L144.0 78.20 L136.0 79.14 L128.0 80.00 L120.0 80.80 L112.0 81.57 L104.0 82.31 L96.0 83.03 L88.0 83.72 L80.0 84.39 L72.0 85.03 L64.0 85.66 L56.0 86.27 L48.0 86.88 L40.0 87.47 L32.0 88.05 L24.0 88.62 L16.0 89.17 L8.0 89.71 L0.0 90.22Z" fill="url(#g10)"/><path d="M0.0 89.22 L8.0 88.71 L16.0 88.17 L24.0 87.62 L32.0 87.05 L40.0 86.47 L48.0 85.88 L56.0 85.27 L64.0 84.66 L72.0 84.03 L80.0 83.39 L88.0 82.72 L96.0 82.03 L104.0 81.31 L112.0 80.57 L120.0 79.80 L128.0 79.00 L136.0 78.14 L144.0 77.20 L152.0 76.25 L160.0 75.31 L168.0 74.44 L176.0 73.60 L184.0 72.74 L192.0 71.83 L200.0 70.81 L208.0 69.61 L216.0 68.25 L224.0 66.78 L232.0 65.26 L240.0 63.76 L248.0 62.28 L256.0 60.76 L264.0 59.22 L272.0 57.65 L280.0 56.04 L288.0 54.40 L296.0 52.72 L304.0 51.01 L312.0 49.30 L320.0 47.61 L328.0 45.91 L336.0 44.19 L344.0 42.46 L352.0 40.74 L360.0 39.06 L368.0 37.42 L376.0 35.85 L384.0 34.38 L392.0 32.97 L400.0 31.61 L408.0 30.29 L416.0 29.01 L424.0 27.77 L432.0 26.57 L440.0 25.40 L448.0 24.26 L450.0 23.98 L450.0 25.65 L448.0 25.94 L440.0 27.16 L432.0 28.41 L424.0 29.70 L416.0 31.04 L408.0 32.41 L400.0 33.84 L392.0 35.30 L384.0 36.81 L376.0 38.40 L368.0 40.08 L360.0 41.84 L352.0 43.65 L344.0 45.49 L336.0 47.34 L328.0 49.19 L320.0 51.01 L312.0 52.82 L304.0 54.65 L296.0 56.48 L288.0 58.28 L280.0 60.04 L272.0 61.75 L264.0 63.44 L256.0 65.09 L248.0 66.71 L240.0 68.30 L232.0 69.91 L224.0 71.53 L216.0 73.11 L208.0 74.57 L200.0 75.84 L192.0 76.92 L184.0 77.89 L176.0 78.78 L168.0 79.67 L160.0 80.59 L152.0 81.59 L144.0 82.60 L136.0 83.59 L128.0 84.50 L120.0 85.34 L112.0 86.16 L104.0 86.94 L96.0 87.70 L88.0 88.43 L80.0 89.13 L72.0 89.81 L64.0 90.47 L56.0 91.11 L48.0 91.74 L40.0 92.35 L32.0 92.96 L24.0 93.54 L16.0 94.11 L8.0 94.66 L0.0 95.19Z" fill="url(#g11)"/><path d="M0.0 94.19 L8.0 93.66 L16.0 93.11 L24.0 92.54 L32.0 91.96 L40.0 91.35 L48.0 90.74 L56.0 90.11 L64.0 89.47 L72.0 88.81 L80.0 88.13 L88.0 87.43 L96.0 86.70 L104.0 85.94 L112.0 85.16 L120.0 84.34 L128.0 83.50 L136.0 82.59 L144.0 81.60 L152.0 80.59 L160.0 79.59 L168.0 78.67 L176.0 77.78 L184.0 76.89 L192.0 75.92 L200.0 74.84 L208.0 73.57 L216.0 72.11 L224.0 70.53 L232.0 68.91 L240.0 67.30 L248.0 65.71 L256.0 64.09 L264.0 62.44 L272.0 60.75 L280.0 59.04 L288.0 57.28 L296.0 55.48 L304.0 53.65 L312.0 51.82 L320.0 50.01 L328.0 48.19 L336.0 46.34 L344.0 44.49 L352.0 42.65 L360.0 40.84 L368.0 39.08 L376.0 37.40 L384.0 35.81 L392.0 34.30 L400.0 32.84 L408.0 31.41 L416.0 30.04 L424.0 28.70 L432.0 27.41 L440.0 26.16 L448.0 24.94 L450.0 24.65 L450.0 26.32 L448.0 26.63 L440.0 27.92 L432.0 29.25 L424.0 30.63 L416.0 32.06 L408.0 33.54 L400.0 35.06 L392.0 36.63 L384.0 38.25 L376.0 39.95 L368.0 41.74 L360.0 43.62 L352.0 45.55 L344.0 47.52 L336.0 49.50 L328.0 51.47 L320.0 53.41 L312.0 55.34 L304.0 57.29 L296.0 59.24 L288.0 61.16 L280.0 63.03 L272.0 64.86 L264.0 66.65 L256.0 68.42 L248.0 70.15 L240.0 71.84 L232.0 73.56 L224.0 75.29 L216.0 76.97 L208.0 78.52 L200.0 79.87 L192.0 81.02 L184.0 82.03 L176.0 82.97 L168.0 83.90 L160.0 84.88 L152.0 85.92 L144.0 86.99 L136.0 88.04 L128.0 89.00 L120.0 89.89 L112.0 90.75 L104.0 91.57 L96.0 92.37 L88.0 93.13 L80.0 93.87 L72.0 94.58 L64.0 95.27 L56.0 95.94 L48.0 96.60 L40.0 97.24 L32.0 97.86 L24.0 98.47 L16.0 99.05 L8.0 99.61 L0.0 100.15Z" fill="url(#g12)"/><path d="M0.0 99.15 L8.0 98.61 L16.0 98.05 L24.0 97.47 L32.0 96.86 L40.0 96.24 L48.0 95.60 L56.0 94.94 L64.0 94.27 L72.0 93.58 L80.0 92.87 L88.0 92.13 L96.0 91.37 L104.0 90.57 L112.0 89.75 L120.0 88.89 L128.0 88.00 L136.0 87.04 L144.0 85.99 L152.0 84.92 L160.0 83.88 L168.0 82.90 L176.0 81.97 L184.0 81.03 L192.0 80.02 L200.0 78.87 L208.0 77.52 L216.0 75.97 L224.0 74.29 L232.0 72.56 L240.0 70.84 L248.0 69.15 L256.0 67.42 L264.0 65.65 L272.0 63.86 L280.0 62.03 L288.0 60.16 L296.0 58.24 L304.0 56.29 L312.0 54.34 L320.0 52.41 L328.0 50.47 L336.0 48.50 L344.0 46.52 L352.0 44.55 L360.0 42.62 L368.0 40.74 L376.0 38.95 L384.0 37.25 L392.0 35.63 L400.0 34.06 L408.0 32.54 L416.0 31.06 L424.0 29.63 L432.0 28.25 L440.0 26.92 L448.0 25.63 L450.0 25.32 L450.0 26.99 L448.0 27.32 L440.0 28.68 L432.0 30.09 L424.0 31.56 L416.0 33.09 L408.0 34.66 L400.0 36.29 L392.0 37.97 L384.0 39.69 L376.0 41.49 L368.0 43.41 L360.0 45.40 L352.0 47.46 L344.0 49.55 L336.0 51.65 L328.0 53.75 L320.0 55.81 L312.0 57.86 L304.0 59.93 L296.0 61.99 L288.0 64.03 L280.0 66.02 L272.0 67.96 L264.0 69.87 L256.0 71.74 L248.0 73.58 L240.0 75.38 L232.0 77.20 L224.0 79.04 L216.0 80.83 L208.0 82.47 L200.0 83.90 L192.0 85.11 L184.0 86.17 L176.0 87.16 L168.0 88.13 L160.0 89.16 L152.0 90.26 L144.0 91.39 L136.0 92.49 L128.0 93.50 L120.0 94.43 L112.0 95.33 L104.0 96.20 L96.0 97.04 L88.0 97.84 L80.0 98.61 L72.0 99.36 L64.0 100.08 L56.0 100.78 L48.0 101.46 L40.0 102.12 L32.0 102.77 L24.0 103.39 L16.0 103.99 L8.0 104.56 L0.0 105.11Z" fill="url(#g13)"/><path d="M0.0 104.11 L8.0 103.56 L16.0 102.99 L24.0 102.39 L32.0 101.77 L40.0 101.12 L48.0 100.46 L56.0 99.78 L64.0 99.08 L72.0 98.36 L80.0 97.61 L88.0 96.84 L96.0 96.04 L104.0 95.20 L112.0 94.33 L120.0 93.43 L128.0 92.50 L136.0 91.49 L144.0 90.39 L152.0 89.26 L160.0 88.16 L168.0 87.13 L176.0 86.16 L184.0 85.17 L192.0 84.11 L200.0 82.90 L208.0 81.47 L216.0 79.83 L224.0 78.04 L232.0 76.20 L240.0 74.38 L248.0 72.58 L256.0 70.74 L264.0 68.87 L272.0 66.96 L280.0 65.02 L288.0 63.03 L296.0 60.99 L304.0 58.93 L312.0 56.86 L320.0 54.81 L328.0 52.75 L336.0 50.65 L344.0 48.55 L352.0 46.46 L360.0 44.40 L368.0 42.41 L376.0 40.49 L384.0 38.69 L392.0 36.97 L400.0 35.29 L408.0 33.66 L416.0 32.09 L424.0 30.56 L432.0 29.09 L440.0 27.68 L448.0 26.32 L450.0 25.99 L450.0 27.66 L448.0 28.01 L440.0 29.43 L432.0 30.93 L424.0 32.49 L416.0 34.11 L408.0 35.79 L400.0 37.52 L392.0 39.30 L384.0 41.12 L376.0 43.04 L368.0 45.07 L360.0 47.18 L352.0 49.36 L344.0 51.58 L336.0 53.81 L328.0 56.02 L320.0 58.20 L312.0 60.37 L304.0 62.57 L296.0 64.75 L288.0 66.91 L280.0 69.01 L272.0 71.07 L264.0 73.09 L256.0 75.07 L248.0 77.01 L240.0 78.92 L232.0 80.85 L224.0 82.80 L216.0 84.69 L208.0 86.43 L200.0 87.94 L192.0 89.20 L184.0 90.32 L176.0 91.35 L168.0 92.37 L160.0 93.44 L152.0 94.59 L144.0 95.78 L136.0 96.94 L128.0 98.00 L120.0 98.98 L112.0 99.92 L104.0 100.83 L96.0 101.71 L88.0 102.55 L80.0 103.36 L72.0 104.14 L64.0 104.89 L56.0 105.61 L48.0 106.32 L40.0 107.01 L32.0 107.67 L24.0 108.31 L16.0 108.93 L8.0 109.52 L0.0 110.08Z" fill="url(#g14)"/><path d="M0.0 109.08 L8.0 108.52 L16.0 107.93 L24.0 107.31 L32.0 106.67 L40.0 106.01 L48.0 105.32 L56.0 104.61 L64.0 103.89 L72.0 103.14 L80.0 102.36 L88.0 101.55 L96.0 100.71 L104.0 99.83 L112.0 98.92 L120.0 97.98 L128.0 97.00 L136.0 95.94 L144.0 94.78 L152.0 93.59 L160.0 92.44 L168.0 91.37 L176.0 90.35 L184.0 89.32 L192.0 88.20 L200.0 86.94 L208.0 85.43 L216.0 83.69 L224.0 81.80 L232.0 79.85 L240.0 77.92 L248.0 76.01 L256.0 74.07 L264.0 72.09 L272.0 70.07 L280.0 68.01 L288.0 65.91 L296.0 63.75 L304.0 61.57 L312.0 59.37 L320.0 57.20 L328.0 55.02 L336.0 52.81 L344.0 50.58 L352.0 48.36 L360.0 46.18 L368.0 44.07 L376.0 42.04 L384.0 40.12 L392.0 38.30 L400.0 36.52 L408.0 34.79 L416.0 33.11 L424.0 31.49 L432.0 29.93 L440.0 28.43 L448.0 27.01 L450.0 26.66 L450.0 28.33 L448.0 28.69 L440.0 30.19 L432.0 31.77 L424.0 33.42 L416.0 35.13 L408.0 36.91 L400.0 38.74 L392.0 40.63 L384.0 42.56 L376.0 44.59 L368.0 46.73 L360.0 48.97 L352.0 51.27 L344.0 53.61 L336.0 55.96 L328.0 58.30 L320.0 60.60 L312.0 62.89 L304.0 65.20 L296.0 67.51 L288.0 69.79 L280.0 72.01 L272.0 74.17 L264.0 76.30 L256.0 78.40 L248.0 80.45 L240.0 82.46 L232.0 84.49 L224.0 86.55 L216.0 88.55 L208.0 90.38 L200.0 91.97 L192.0 93.29 L184.0 94.46 L176.0 95.54 L168.0 96.60 L160.0 97.72 L152.0 98.93 L144.0 100.17 L136.0 101.39 L128.0 102.50 L120.0 103.52 L112.0 104.51 L104.0 105.46 L96.0 106.38 L88.0 107.26 L80.0 108.10 L72.0 108.91 L64.0 109.69 L56.0 110.45 L48.0 111.18 L40.0 111.89 L32.0 112.58 L24.0 113.24 L16.0 113.87 L8.0 114.47 L0.0 115.04Z" fill="url(#g15)"/><path d="M0.0 114.04 L8.0 113.47 L16.0 112.87 L24.0 112.24 L32.0 111.58 L40.0 110.89 L48.0 110.18 L56.0 109.45 L64.0 108.69 L72.0 107.91 L80.0 107.10 L88.0 106.26 L96.0 105.38 L104.0 104.46 L112.0 103.51 L120.0 102.52 L128.0 101.50 L136.0 100.39 L144.0 99.17 L152.0 97.93 L160.0 96.72 L168.0 95.60 L176.0 94.54 L184.0 93.46 L192.0 92.29 L200.0 90.97 L208.0 89.38 L216.0 87.55 L224.0 85.55 L232.0 83.49 L240.0 81.46 L248.0 79.45 L256.0 77.40 L264.0 75.30 L272.0 73.17 L280.0 71.01 L288.0 68.79 L296.0 66.51 L304.0 64.20 L312.0 61.89 L320.0 59.60 L328.0 57.30 L336.0 54.96 L344.0 52.61 L352.0 50.27 L360.0 47.97 L368.0 45.73 L376.0 43.59 L384.0 41.56 L392.0 39.63 L400.0 37.74 L408.0 35.91 L416.0 34.13 L424.0 32.42 L432.0 30.77 L440.0 29.19 L448.0 27.69 L450.0 27.33 L450.0 29.00 L448.0 29.38 L440.0 30.95 L432.0 32.61 L424.0 34.35 L416.0 36.16 L408.0 38.03 L400.0 39.97 L392.0 41.96 L384.0 44.00 L376.0 46.13 L368.0 48.39 L360.0 50.75 L352.0 53.17 L344.0 55.64 L336.0 58.12 L328.0 60.58 L320.0 63.00 L312.0 65.41 L304.0 67.84 L296.0 70.27 L288.0 72.66 L280.0 75.00 L272.0 77.28 L264.0 79.52 L256.0 81.72 L248.0 83.88 L240.0 86.00 L232.0 88.14 L224.0 90.31 L216.0 92.41 L208.0 94.34 L200.0 96.00 L192.0 97.39 L184.0 98.60 L176.0 99.73 L168.0 100.83 L160.0 102.00 L152.0 103.27 L144.0 104.57 L136.0 105.84 L128.0 107.00 L120.0 108.07 L112.0 109.10 L104.0 110.09 L96.0 111.05 L88.0 111.96 L80.0 112.84 L72.0 113.69 L64.0 114.50 L56.0 115.28 L48.0 116.04 L40.0 116.77 L32.0 117.48 L24.0 118.16 L16.0 118.81 L8.0 119.42 L0.0 120.00Z" fill="url(#g16)"/><path d="M0.0 0.00 L8.0 0.00 L16.0 0.00 L24.0 0.00 L32.0 0.00 L40.0 0.00 L48.0 0.00 L56.0 0.00 L64.0 0.00 L72.0 0.00 L80.0 0.00 L88.0 0.00 L96.0 0.00 L104.0 0.00 L112.0 0.00 L120.0 0.00 L128.0 0.00 L136.0 0.00 L144.0 0.00 L152.0 0.00 L160.0 0.00 L168.0 0.00 L176.0 0.00 L184.0 0.00 L192.0 0.00 L200.0 0.00 L208.0 0.00 L216.0 0.00 L224.0 0.00 L232.0 0.00 L240.0 0.00 L248.0 0.00 L256.0 0.00 L264.0 0.00 L272.0 0.00 L280.0 0.00 L288.0 0.00 L296.0 0.00 L304.0 0.00 L312.0 0.00 L320.0 0.00 L328.0 0.00 L336.0 0.00 L344.0 0.00 L352.0 0.00 L360.0 0.00 L368.0 0.00 L376.0 0.00 L384.0 0.00 L392.0 0.00 L400.0 0.00 L408.0 0.00 L416.0 0.00 L424.0 0.00 L432.0 0.00 L440.0 0.00 L448.0 0.00 L456.0 0.00 L464.0 0.00 L472.0 0.00 L480.0 0.00 L488.0 0.00 L496.0 0.00 L504.0 0.00 L512.0 0.00 L520.0 0.00 L520.0 2.12 L512.0 2.16 L504.0 2.20 L496.0 2.23 L488.0 2.26 L480.0 2.29 L472.0 2.31 L464.0 2.32 L456.0 2.33 L448.0 2.34 L440.0 2.35 L432.0 2.35 L424.0 2.36 L416.0 2.36 L408.0 2.37 L400.0 2.38 L392.0 2.39 L384.0 2.40 L376.0 2.42 L368.0 2.45 L360.0 2.49 L352.0 2.54 L344.0 2.60 L336.0 2.67 L328.0 2.74 L320.0 2.82 L312.0 2.90 L304.0 2.99 L296.0 3.08 L288.0 3.16 L280.0 3.25 L272.0 3.34 L264.0 3.42 L256.0 3.50 L248.0 3.58 L240.0 3.66 L232.0 3.75 L224.0 3.84 L216.0 3.93 L208.0 4.03 L200.0 4.12 L192.0 4.22 L184.0 4.32 L176.0 4.41 L168.0 4.51 L160.0 4.60 L152.0 4.69 L144.0 4.77 L136.0 4.86 L128.0 4.94 L120.0 5.01 L112.0 5.09 L104.0 5.16 L96.0 5.23 L88.0 5.30 L80.0 5.37 L72.0 5.44 L64.0 5.50 L56.0 5.57 L48.0 5.63 L40.0 5.69 L32.0 5.74 L24.0 5.80 L16.0 5.85 L8.0 5.90 L0.0 5.95Z" fill="url(#g17)"/><path d="M0.0 4.95 L8.0 4.90 L16.0 4.85 L24.0 4.80 L32.0 4.74 L40.0 4.69 L48.0 4.63 L56.0 4.57 L64.0 4.50 L72.0 4.44 L80.0 4.37 L88.0 4.30 L96.0 4.23 L104.0 4.16 L112.0 4.09 L120.0 4.01 L128.0 3.94 L136.0 3.86 L144.0 3.77 L152.0 3.69 L160.0 3.60 L168.0 3.51 L176.0 3.41 L184.0 3.32 L192.0 3.22 L200.0 3.12 L208.0 3.03 L216.0 2.93 L224.0 2.84 L232.0 2.75 L240.0 2.66 L248.0 2.58 L256.0 2.50 L264.0 2.42 L272.0 2.34 L280.0 2.25 L288.0 2.16 L296.0 2.08 L304.0 1.99 L312.0 1.90 L320.0 1.82 L328.0 1.74 L336.0 1.67 L344.0 1.60 L352.0 1.54 L360.0 1.49 L368.0 1.45 L376.0 1.42 L384.0 1.40 L392.0 1.39 L400.0 1.38 L408.0 1.37 L416.0 1.36 L424.0 1.36 L432.0 1.35 L440.0 1.35 L448.0 1.34 L456.0 1.33 L464.0 1.32 L472.0 1.31 L480.0 1.29 L488.0 1.26 L496.0 1.23 L504.0 1.20 L512.0 1.16 L520.0 1.12 L520.0 3.25 L512.0 3.33 L504.0 3.40 L496.0 3.47 L488.0 3.53 L480.0 3.58 L472.0 3.62 L464.0 3.64 L456.0 3.66 L448.0 3.68 L440.0 3.69 L432.0 3.70 L424.0 3.72 L416.0 3.73 L408.0 3.74 L400.0 3.76 L392.0 3.78 L384.0 3.80 L376.0 3.84 L368.0 3.90 L360.0 3.99 L352.0 4.09 L344.0 4.21 L336.0 4.34 L328.0 4.49 L320.0 4.64 L312.0 4.81 L304.0 4.98 L296.0 5.15 L288.0 5.33 L280.0 5.50 L272.0 5.67 L264.0 5.84 L256.0 6.00 L248.0 6.16 L240.0 6.33 L232.0 6.50 L224.0 6.68 L216.0 6.87 L208.0 7.06 L200.0 7.25 L192.0 7.44 L184.0 7.63 L176.0 7.82 L168.0 8.01 L160.0 8.20 L152.0 8.38 L144.0 8.55 L136.0 8.72 L128.0 8.88 L120.0 9.03 L112.0 9.18 L104.0 9.32 L96.0 9.47 L88.0 9.61 L80.0 9.74 L72.0 9.88 L64.0 10.01 L56.0 10.13 L48.0 10.26 L40.0 10.37 L32.0 10.49 L24.0 10.60 L16.0 10.70 L8.0 10.80 L0.0 10.90Z" fill="url(#g18)"/><path d="M0.0 9.90 L8.0 9.80 L16.0 9.70 L24.0 9.60 L32.0 9.49 L40.0 9.37 L48.0 9.26 L56.0 9.13 L64.0 9.01 L72.0 8.88 L80.0 8.74 L88.0 8.61 L96.0 8.47 L104.0 8.32 L112.0 8.18 L120.0 8.03 L128.0 7.88 L136.0 7.72 L144.0 7.55 L152.0 7.38 L160.0 7.20 L168.0 7.01 L176.0 6.82 L184.0 6.63 L192.0 6.44 L200.0 6.25 L208.0 6.06 L216.0 5.87 L224.0 5.68 L232.0 5.50 L240.0 5.33 L248.0 5.16 L256.0 5.00 L264.0 4.84 L272.0 4.67 L280.0 4.50 L288.0 4.33 L296.0 4.15 L304.0 3.98 L312.0 3.81 L320.0 3.64 L328.0 3.49 L336.0 3.34 L344.0 3.21 L352.0 3.09 L360.0 2.99 L368.0 2.90 L376.0 2.84 L384.0 2.80 L392.0 2.78 L400.0 2.76 L408.0 2.74 L416.0 2.73 L424.0 2.72 L432.0 2.70 L440.0 2.69 L448.0 2.68 L456.0 2.66 L464.0 2.64 L472.0 2.62 L480.0 2.58 L488.0 2.53 L496.0 2.47 L504.0 2.40 L512.0 2.33 L520.0 2.25 L520.0 4.37 L512.0 4.49 L504.0 4.60 L496.0 4.70 L488.0 4.79 L480.0 4.87 L472.0 4.93 L464.0 4.97 L456.0 5.00 L448.0 5.02 L440.0 5.04 L432.0 5.06 L424.0 5.07 L416.0 5.09 L408.0 5.11 L400.0 5.13 L392.0 5.16 L384.0 5.20 L376.0 5.26 L368.0 5.35 L360.0 5.48 L352.0 5.63 L344.0 5.81 L336.0 6.01 L328.0 6.23 L320.0 6.47 L312.0 6.71 L304.0 6.97 L296.0 7.23 L288.0 7.49 L280.0 7.75 L272.0 8.01 L264.0 8.26 L256.0 8.50 L248.0 8.74 L240.0 8.99 L232.0 9.26 L224.0 9.53 L216.0 9.80 L208.0 10.09 L200.0 10.37 L192.0 10.66 L184.0 10.95 L176.0 11.23 L168.0 11.52 L160.0 11.79 L152.0 12.06 L144.0 12.32 L136.0 12.57 L128.0 12.81 L120.0 13.04 L112.0 13.27 L104.0 13.49 L96.0 13.70 L88.0 13.91 L80.0 14.12 L72.0 14.32 L64.0 14.51 L56.0 14.70 L48.0 14.88 L40.0 15.06 L32.0 15.23 L24.0 15.39 L16.0 15.55 L8.0 15.70 L0.0 15.85Z" fill="url(#g19)"/><path d="M0.0 14.85 L8.0 14.70 L16.0 14.55 L24.0 14.39 L32.0 14.23 L40.0 14.06 L48.0 13.88 L56.0 13.70 L64.0 13.51 L72.0 13.32 L80.0 13.12 L88.0 12.91 L96.0 12.70 L104.0 12.49 L112.0 12.27 L120.0 12.04 L128.0 11.81 L136.0 11.57 L144.0 11.32 L152.0 11.06 L160.0 10.79 L168.0 10.52 L176.0 10.23 L184.0 9.95 L192.0 9.66 L200.0 9.37 L208.0 9.09 L216.0 8.80 L224.0 8.53 L232.0 8.26 L240.0 7.99 L248.0 7.74 L256.0 7.50 L264.0 7.26 L272.0 7.01 L280.0 6.75 L288.0 6.49 L296.0 6.23 L304.0 5.97 L312.0 5.71 L320.0 5.47 L328.0 5.23 L336.0 5.01 L344.0 4.81 L352.0 4.63 L360.0 4.48 L368.0 4.35 L376.0 4.26 L384.0 4.20 L392.0 4.16 L400.0 4.13 L408.0 4.11 L416.0 4.09 L424.0 4.07 L432.0 4.06 L440.0 4.04 L448.0 4.02 L456.0 4.00 L464.0 3.97 L472.0 3.93 L480.0 3.87 L488.0 3.79 L496.0 3.70 L504.0 3.60 L512.0 3.49 L520.0 3.37 L520.0 5.50 L512.0 5.65 L504.0 5.80 L496.0 5.94 L488.0 6.06 L480.0 6.16 L472.0 6.24 L464.0 6.29 L456.0 6.33 L448.0 6.36 L440.0 6.39 L432.0 6.41 L424.0 6.43 L416.0 6.45 L408.0 6.48 L400.0 6.51 L392.0 6.55 L384.0 6.60 L376.0 6.68 L368.0 6.81 L360.0 6.97 L352.0 7.18 L344.0 7.42 L336.0 7.68 L328.0 7.98 L320.0 8.29 L312.0 8.62 L304.0 8.96 L296.0 9.30 L288.0 9.65 L280.0 10.00 L272.0 10.35 L264.0 10.68 L256.0 11.00 L248.0 11.32 L240.0 11.66 L232.0 12.01 L224.0 12.37 L216.0 12.74 L208.0 13.12 L200.0 13.50 L192.0 13.88 L184.0 14.26 L176.0 14.65 L168.0 15.02 L160.0 15.39 L152.0 15.75 L144.0 16.10 L136.0 16.43 L128.0 16.75 L120.0 17.06 L112.0 17.36 L104.0 17.65 L96.0 17.94 L88.0 18.22 L80.0 18.49 L72.0 18.76 L64.0 19.01 L56.0 19.27 L48.0 19.51 L40.0 19.75 L32.0 19.97 L24.0 20.19 L16.0 20.40 L8.0 20.60 L0.0 20.80Z" fill="url(#g20)"/><path d="M0.0 19.80 L8.0 19.60 L16.0 19.40 L24.0 19.19 L32.0 18.97 L40.0 18.75 L48.0 18.51 L56.0 18.27 L64.0 18.01 L72.0 17.76 L80.0 17.49 L88.0 17.22 L96.0 16.94 L104.0 16.65 L112.0 16.36 L120.0 16.06 L128.0 15.75 L136.0 15.43 L144.0 15.10 L152.0 14.75 L160.0 14.39 L168.0 14.02 L176.0 13.65 L184.0 13.26 L192.0 12.88 L200.0 12.50 L208.0 12.12 L216.0 11.74 L224.0 11.37 L232.0 11.01 L240.0 10.66 L248.0 10.32 L256.0 10.00 L264.0 9.68 L272.0 9.35 L280.0 9.00 L288.0 8.65 L296.0 8.30 L304.0 7.96 L312.0 7.62 L320.0 7.29 L328.0 6.98 L336.0 6.68 L344.0 6.42 L352.0 6.18 L360.0 5.97 L368.0 5.81 L376.0 5.68 L384.0 5.60 L392.0 5.55 L400.0 5.51 L408.0 5.48 L416.0 5.45 L424.0 5.43 L432.0 5.41 L440.0 5.39 L448.0 5.36 L456.0 5.33 L464.0 5.29 L472.0 5.24 L480.0 5.16 L488.0 5.06 L496.0 4.94 L504.0 4.80 L512.0 4.65 L520.0 4.50 L520.0 6.62 L512.0 6.81 L504.0 7.00 L496.0 7.17 L488.0 7.32 L480.0 7.45 L472.0 7.54 L464.0 7.61 L456.0 7.66 L448.0 7.70 L440.0 7.73 L432.0 7.76 L424.0 7.79 L416.0 7.82 L408.0 7.85 L400.0 7.89 L392.0 7.94 L384.0 8.00 L376.0 8.10 L368.0 8.26 L360.0 8.47 L352.0 8.72 L344.0 9.02 L336.0 9.35 L328.0 9.72 L320.0 10.11 L312.0 10.52 L304.0 10.94 L296.0 11.38 L288.0 11.82 L280.0 12.25 L272.0 12.68 L264.0 13.10 L256.0 13.50 L248.0 13.90 L240.0 14.32 L232.0 14.76 L224.0 15.21 L216.0 15.67 L208.0 16.14 L200.0 16.62 L192.0 17.10 L184.0 17.58 L176.0 18.06 L168.0 18.53 L160.0 18.99 L152.0 19.44 L144.0 19.87 L136.0 20.29 L128.0 20.69 L120.0 21.07 L112.0 21.44 L104.0 21.81 L96.0 22.17 L88.0 22.52 L80.0 22.86 L72.0 23.19 L64.0 23.52 L56.0 23.83 L48.0 24.14 L40.0 24.43 L32.0 24.72 L24.0 24.99 L16.0 25.25 L8.0 25.51 L0.0 25.75Z" fill="url(#g21)"/><path d="M0.0 24.75 L8.0 24.51 L16.0 24.25 L24.0 23.99 L32.0 23.72 L40.0 23.43 L48.0 23.14 L56.0 22.83 L64.0 22.52 L72.0 22.19 L80.0 21.86 L88.0 21.52 L96.0 21.17 L104.0 20.81 L112.0 20.44 L120.0 20.07 L128.0 19.69 L136.0 19.29 L144.0 18.87 L152.0 18.44 L160.0 17.99 L168.0 17.53 L176.0 17.06 L184.0 16.58 L192.0 16.10 L200.0 15.62 L208.0 15.14 L216.0 14.67 L224.0 14.21 L232.0 13.76 L240.0 13.32 L248.0 12.90 L256.0 12.50 L264.0 12.10 L272.0 11.68 L280.0 11.25 L288.0 10.82 L296.0 10.38 L304.0 9.94 L312.0 9.52 L320.0 9.11 L328.0 8.72 L336.0 8.35 L344.0 8.02 L352.0 7.72 L360.0 7.47 L368.0 7.26 L376.0 7.10 L384.0 7.00 L392.0 6.94 L400.0 6.89 L408.0 6.85 L416.0 6.82 L424.0 6.79 L432.0 6.76 L440.0 6.73 L448.0 6.70 L456.0 6.66 L464.0 6.61 L472.0 6.54 L480.0 6.45 L488.0 6.32 L496.0 6.17 L504.0 6.00 L512.0 5.81 L520.0 5.62 L520.0 7.75 L512.0 7.98 L504.0 8.20 L496.0 8.40 L488.0 8.59 L480.0 8.74 L472.0 8.85 L464.0 8.93 L456.0 8.99 L448.0 9.04 L440.0 9.08 L432.0 9.11 L424.0 9.15 L416.0 9.18 L408.0 9.22 L400.0 9.27 L392.0 9.33 L384.0 9.40 L376.0 9.52 L368.0 9.71 L360.0 9.96 L352.0 10.27 L344.0 10.62 L336.0 11.03 L328.0 11.46 L320.0 11.93 L312.0 12.42 L304.0 12.93 L296.0 13.45 L288.0 13.98 L280.0 14.50 L272.0 15.02 L264.0 15.52 L256.0 16.00 L248.0 16.48 L240.0 16.99 L232.0 17.51 L224.0 18.05 L216.0 18.61 L208.0 19.17 L200.0 19.75 L192.0 20.32 L184.0 20.90 L176.0 21.47 L168.0 22.03 L160.0 22.59 L152.0 23.13 L144.0 23.65 L136.0 24.15 L128.0 24.62 L120.0 25.08 L112.0 25.53 L104.0 25.97 L96.0 26.40 L88.0 26.82 L80.0 27.23 L72.0 27.63 L64.0 28.02 L56.0 28.40 L48.0 28.77 L40.0 29.12 L32.0 29.46 L24.0 29.79 L16.0 30.10 L8.0 30.41 L0.0 30.70Z" fill="url(#g22)"/><path d="M0.0 29.70 L8.0 29.41 L16.0 29.10 L24.0 28.79 L32.0 28.46 L40.0 28.12 L48.0 27.77 L56.0 27.40 L64.0 27.02 L72.0 26.63 L80.0 26.23 L88.0 25.82 L96.0 25.40 L104.0 24.97 L112.0 24.53 L120.0 24.08 L128.0 23.62 L136.0 23.15 L144.0 22.65 L152.0 22.13 L160.0 21.59 L168.0 21.03 L176.0 20.47 L184.0 19.90 L192.0 19.32 L200.0 18.75 L208.0 18.17 L216.0 17.61 L224.0 17.05 L232.0 16.51 L240.0 15.99 L248.0 15.48 L256.0 15.00 L264.0 14.52 L272.0 14.02 L280.0 13.50 L288.0 12.98 L296.0 12.45 L304.0 11.93 L312.0 11.42 L320.0 10.93 L328.0 10.46 L336.0 10.03 L344.0 9.62 L352.0 9.27 L360.0 8.96 L368.0 8.71 L376.0 8.52 L384.0 8.40 L392.0 8.33 L400.0 8.27 L408.0 8.22 L416.0 8.18 L424.0 8.15 L432.0 8.11 L440.0 8.08 L448.0 8.04 L456.0 7.99 L464.0 7.93 L472.0 7.85 L480.0 7.74 L488.0 7.59 L496.0 7.40 L504.0 7.20 L512.0 6.98 L520.0 6.75 L520.0 8.87 L512.0 9.14 L504.0 9.40 L496.0 9.64 L488.0 9.85 L480.0 10.03 L472.0 10.16 L464.0 10.25 L456.0 10.32 L448.0 10.38 L440.0 10.43 L432.0 10.47 L424.0 10.50 L416.0 10.54 L408.0 10.59 L400.0 10.64 L392.0 10.71 L384.0 10.80 L376.0 10.94 L368.0 11.16 L360.0 11.45 L352.0 11.81 L344.0 12.23 L336.0 12.70 L328.0 13.21 L320.0 13.75 L312.0 14.33 L304.0 14.92 L296.0 15.53 L288.0 16.14 L280.0 16.75 L272.0 17.36 L264.0 17.94 L256.0 18.50 L248.0 19.06 L240.0 19.65 L232.0 20.26 L224.0 20.89 L216.0 21.54 L208.0 22.20 L200.0 22.87 L192.0 23.54 L184.0 24.21 L176.0 24.88 L168.0 25.54 L160.0 26.18 L152.0 26.81 L144.0 27.42 L136.0 28.01 L128.0 28.56 L120.0 29.10 L112.0 29.62 L104.0 30.13 L96.0 30.64 L88.0 31.13 L80.0 31.61 L72.0 32.07 L64.0 32.53 L56.0 32.97 L48.0 33.39 L40.0 33.81 L32.0 34.20 L24.0 34.59 L16.0 34.95 L8.0 35.31 L0.0 35.65Z" fill="url(#g23)"/><path d="M0.0 34.65 L8.0 34.31 L16.0 33.95 L24.0 33.59 L32.0 33.20 L40.0 32.81 L48.0 32.39 L56.0 31.97 L64.0 31.53 L72.0 31.07 L80.0 30.61 L88.0 30.13 L96.0 29.64 L104.0 29.13 L112.0 28.62 L120.0 28.10 L128.0 27.56 L136.0 27.01 L144.0 26.42 L152.0 25.81 L160.0 25.18 L168.0 24.54 L176.0 23.88 L184.0 23.21 L192.0 22.54 L200.0 21.87 L208.0 21.20 L216.0 20.54 L224.0 19.89 L232.0 19.26 L240.0 18.65 L248.0 18.06 L256.0 17.50 L264.0 16.94 L272.0 16.36 L280.0 15.75 L288.0 15.14 L296.0 14.53 L304.0 13.92 L312.0 13.33 L320.0 12.75 L328.0 12.21 L336.0 11.70 L344.0 11.23 L352.0 10.81 L360.0 10.45 L368.0 10.16 L376.0 9.94 L384.0 9.80 L392.0 9.71 L400.0 9.64 L408.0 9.59 L416.0 9.54 L424.0 9.50 L432.0 9.47 L440.0 9.43 L448.0 9.38 L456.0 9.32 L464.0 9.25 L472.0 9.16 L480.0 9.03 L488.0 8.85 L496.0 8.64 L504.0 8.40 L512.0 8.14 L520.0 7.87 L520.0 10.00 L512.0 10.30 L504.0 10.60 L496.0 10.87 L488.0 11.12 L480.0 11.32 L472.0 11.47 L464.0 11.57 L456.0 11.66 L448.0 11.72 L440.0 11.77 L432.0 11.82 L424.0 11.86 L416.0 11.91 L408.0 11.96 L400.0 12.02 L392.0 12.10 L384.0 12.20 L376.0 12.36 L368.0 12.61 L360.0 12.95 L352.0 13.36 L344.0 13.83 L336.0 14.37 L328.0 14.95 L320.0 15.58 L312.0 16.23 L304.0 16.91 L296.0 17.61 L288.0 18.31 L280.0 19.00 L272.0 19.69 L264.0 20.36 L256.0 21.00 L248.0 21.64 L240.0 22.31 L232.0 23.01 L224.0 23.74 L216.0 24.48 L208.0 25.23 L200.0 25.99 L192.0 26.76 L184.0 27.53 L176.0 28.29 L168.0 29.04 L160.0 29.78 L152.0 30.50 L144.0 31.20 L136.0 31.87 L128.0 32.50 L120.0 33.11 L112.0 33.71 L104.0 34.30 L96.0 34.87 L88.0 35.43 L80.0 35.98 L72.0 36.51 L64.0 37.03 L56.0 37.53 L48.0 38.02 L40.0 38.49 L32.0 38.95 L24.0 39.38 L16.0 39.80 L8.0 40.21 L0.0 40.60Z" fill="url(#g24)"/><path d="M40.0 37.49 L46.0 37.14 L52.0 36.78 L58.0 36.41 L64.0 36.03 L70.0 35.64 L76.0 35.25 L82.0 34.84 L88.0 34.43 L94.0 34.01 L100.0 33.59 L106.0 33.15 L112.0 32.71 L118.0 32.26 L124.0 31.81 L130.0 31.34 L136.0 30.87 L142.0 30.37 L148.0 29.85 L154.0 29.32 L160.0 28.78 L166.0 28.23 L172.0 27.67 L178.0 27.10 L184.0 26.53 L190.0 25.95 L196.0 25.38 L202.0 24.80 L208.0 24.23 L214.0 23.66 L220.0 23.10 L226.0 22.55 L232.0 22.01 L238.0 21.49 L244.0 20.97 L250.0 20.48 L256.0 20.00 L262.0 19.52 L268.0 19.03 L274.0 18.52 L280.0 18.00 L286.0 17.48 L292.0 16.96 L298.0 16.43 L304.0 15.91 L310.0 15.40 L316.0 14.90 L322.0 14.42 L328.0 13.95 L334.0 13.51 L340.0 13.09 L346.0 12.71 L352.0 12.36 L358.0 12.04 L364.0 11.77 L370.0 11.54 L376.0 11.36 L382.0 11.23 L388.0 11.15 L394.0 11.08 L400.0 11.02 L406.0 10.97 L412.0 10.93 L418.0 10.90 L424.0 10.86 L430.0 10.83 L436.0 10.80 L442.0 10.76 L448.0 10.72 L454.0 10.67 L460.0 10.62 L466.0 10.55 L472.0 10.47 L478.0 10.36 L484.0 10.22 L490.0 10.06 L496.0 9.87 L502.0 9.67 L508.0 9.45 L514.0 9.23 L520.0 9.00 L520.0 12.00 L514.0 12.45 L508.0 12.91 L502.0 13.36 L496.0 13.81 L490.0 14.26 L484.0 14.70 L478.0 15.15 L472.0 15.62 L466.0 16.10 L460.0 16.57 L454.0 17.01 L448.0 17.39 L442.0 17.71 L436.0 17.99 L430.0 18.24 L424.0 18.48 L418.0 18.70 L412.0 18.91 L406.0 19.12 L400.0 19.34 L394.0 19.57 L388.0 19.82 L382.0 20.09 L376.0 20.39 L370.0 20.69 L364.0 21.01 L358.0 21.35 L352.0 21.69 L346.0 22.04 L340.0 22.40 L334.0 22.76 L328.0 23.13 L322.0 23.50 L316.0 23.88 L310.0 24.26 L304.0 24.63 L298.0 25.01 L292.0 25.38 L286.0 25.75 L280.0 26.12 L274.0 26.48 L268.0 26.83 L262.0 27.17 L256.0 27.50 L250.0 27.83 L244.0 28.15 L238.0 28.47 L232.0 28.80 L226.0 29.12 L220.0 29.44 L214.0 29.76 L208.0 30.07 L202.0 30.38 L196.0 30.69 L190.0 31.00 L184.0 31.31 L178.0 31.61 L172.0 31.91 L166.0 32.21 L160.0 32.50 L154.0 32.79 L148.0 33.08 L142.0 33.36 L136.0 33.64 L130.0 33.91 L124.0 34.18 L118.0 34.44 L112.0 34.69 L106.0 34.93 L100.0 35.17 L94.0 35.41 L88.0 35.64 L82.0 35.88 L76.0 36.11 L70.0 36.35 L64.0 36.59 L58.0 36.84 L52.0 37.09 L46.0 37.36 L40.0 37.63Z" fill="#080400"/><path d="M378.0 44.50 L384.0 42.12 L390.0 39.74 L396.0 37.35 L402.0 34.97 L408.0 32.59 L414.0 30.21 L420.0 27.82 L426.0 25.44 L432.0 23.06 L438.0 20.68 L444.0 18.29 L450.0 15.77 L456.0 13.17 L462.0 10.72 L468.0 9.03 L474.0 7.33 L480.0 5.64 L486.0 3.95 L492.0 2.26 L498.0 0.56 L504.0 0.00 L510.0 0.00 L516.0 0.00 L522.0 0.00 L528.0 0.00 L534.0 0.00 L540.0 0.00 L546.0 0.00 L552.0 0.00 L558.0 0.00 L564.0 0.00 L570.0 0.00 L576.0 0.00 L582.0 0.00 L588.0 0.00 L594.0 0.00 L600.0 0.00 L606.0 0.00 L612.0 0.00 L618.0 0.00 L624.0 0.00 L630.0 0.00 L636.0 0.00 L642.0 0.00 L648.0 0.00 L654.0 0.00 L660.0 0.00 L666.0 0.00 L672.0 0.00 L678.0 0.00 L684.0 0.00 L690.0 0.00 L696.0 0.00 L702.0 0.00 L708.0 0.00 L714.0 0.00 L720.0 0.00 L726.0 0.00 L732.0 0.00 L738.0 0.00 L744.0 0.00 L750.0 0.00 L756.0 0.00 L762.0 0.00 L768.0 0.00 L774.0 0.00 L780.0 0.00 L786.0 0.00 L792.0 0.00 L798.0 0.00 L804.0 0.00 L810.0 0.00 L816.0 0.00 L822.0 0.00 L828.0 0.00 L834.0 0.00 L840.0 0.00 L846.0 0.00 L852.0 0.00 L858.0 0.00 L864.0 0.00 L870.0 0.00 L876.0 0.00 L882.0 0.00 L888.0 0.00 L894.0 0.00 L900.0 0.00 L906.0 0.00 L912.0 0.00 L918.0 0.00 L924.0 0.00 L930.0 0.00 L936.0 0.00 L942.0 0.00 L948.0 0.00 L954.0 0.00 L960.0 0.00 L966.0 0.00 L972.0 0.00 L978.0 0.00 L984.0 0.00 L990.0 0.00 L996.0 0.00 L1002.0 0.00 L1008.0 0.00 L1014.0 0.00 L1020.0 0.00 L1024.0 0.00 L1024.0 4.14 L1020.0 4.06 L1014.0 3.93 L1008.0 3.81 L1002.0 3.69 L996.0 3.57 L990.0 3.45 L984.0 3.33 L978.0 3.21 L972.0 3.09 L966.0 2.97 L960.0 2.86 L954.0 2.74 L948.0 2.63 L942.0 2.52 L936.0 2.41 L930.0 2.31 L924.0 2.20 L918.0 2.10 L912.0 2.00 L906.0 1.91 L900.0 1.83 L894.0 1.76 L888.0 1.70 L882.0 1.65 L876.0 1.60 L870.0 1.55 L864.0 1.51 L858.0 1.47 L852.0 1.44 L846.0 1.40 L840.0 1.37 L834.0 1.34 L828.0 1.31 L822.0 1.29 L816.0 1.26 L810.0 1.23 L804.0 1.20 L798.0 1.17 L792.0 1.15 L786.0 1.12 L780.0 1.11 L774.0 1.09 L768.0 1.09 L762.0 1.09 L756.0 1.10 L750.0 1.10 L744.0 1.11 L738.0 1.12 L732.0 1.13 L726.0 1.15 L720.0 1.16 L714.0 1.18 L708.0 1.19 L702.0 1.21 L696.0 1.23 L690.0 1.24 L684.0 1.27 L678.0 1.29 L672.0 1.31 L666.0 1.34 L660.0 1.37 L654.0 1.40 L648.0 1.43 L642.0 1.45 L636.0 1.48 L630.0 1.51 L624.0 1.54 L618.0 1.58 L612.0 1.61 L606.0 1.64 L600.0 1.68 L594.0 1.71 L588.0 1.75 L582.0 1.79 L576.0 1.83 L570.0 1.86 L564.0 1.90 L558.0 1.94 L552.0 1.98 L546.0 2.02 L540.0 2.06 L534.0 2.11 L528.0 2.15 L522.0 2.20 L516.0 2.25 L510.0 2.30 L504.0 2.36 L498.0 2.94 L492.0 4.58 L486.0 6.22 L480.0 7.86 L474.0 9.50 L468.0 11.15 L462.0 12.79 L456.0 15.15 L450.0 17.64 L444.0 20.07 L438.0 22.37 L432.0 24.67 L426.0 26.97 L420.0 29.28 L414.0 31.59 L408.0 33.91 L402.0 36.22 L396.0 38.54 L390.0 40.86 L384.0 43.18 L378.0 45.51Z" fill="url(#g25)"/><path d="M378.0 44.51 L384.0 42.18 L390.0 39.86 L396.0 37.54 L402.0 35.22 L408.0 32.91 L414.0 30.59 L420.0 28.28 L426.0 25.97 L432.0 23.67 L438.0 21.37 L444.0 19.07 L450.0 16.64 L456.0 14.15 L462.0 11.79 L468.0 10.15 L474.0 8.50 L480.0 6.86 L486.0 5.22 L492.0 3.58 L498.0 1.94 L504.0 1.36 L510.0 1.30 L516.0 1.25 L522.0 1.20 L528.0 1.15 L534.0 1.11 L540.0 1.06 L546.0 1.02 L552.0 0.98 L558.0 0.94 L564.0 0.90 L570.0 0.86 L576.0 0.83 L582.0 0.79 L588.0 0.75 L594.0 0.71 L600.0 0.68 L606.0 0.64 L612.0 0.61 L618.0 0.58 L624.0 0.54 L630.0 0.51 L636.0 0.48 L642.0 0.45 L648.0 0.43 L654.0 0.40 L660.0 0.37 L666.0 0.34 L672.0 0.31 L678.0 0.29 L684.0 0.27 L690.0 0.24 L696.0 0.23 L702.0 0.21 L708.0 0.19 L714.0 0.18 L720.0 0.16 L726.0 0.15 L732.0 0.13 L738.0 0.12 L744.0 0.11 L750.0 0.10 L756.0 0.10 L762.0 0.09 L768.0 0.09 L774.0 0.09 L780.0 0.11 L786.0 0.12 L792.0 0.15 L798.0 0.17 L804.0 0.20 L810.0 0.23 L816.0 0.26 L822.0 0.29 L828.0 0.31 L834.0 0.34 L840.0 0.37 L846.0 0.40 L852.0 0.44 L858.0 0.47 L864.0 0.51 L870.0 0.55 L876.0 0.60 L882.0 0.65 L888.0 0.70 L894.0 0.76 L900.0 0.83 L906.0 0.91 L912.0 1.00 L918.0 1.10 L924.0 1.20 L930.0 1.31 L936.0 1.41 L942.0 1.52 L948.0 1.63 L954.0 1.74 L960.0 1.86 L966.0 1.97 L972.0 2.09 L978.0 2.21 L984.0 2.33 L990.0 2.45 L996.0 2.57 L1002.0 2.69 L1008.0 2.81 L1014.0 2.93 L1020.0 3.06 L1024.0 3.14 L1024.0 7.29 L1020.0 7.12 L1014.0 6.87 L1008.0 6.62 L1002.0 6.38 L996.0 6.13 L990.0 5.89 L984.0 5.65 L978.0 5.42 L972.0 5.18 L966.0 4.95 L960.0 4.71 L954.0 4.48 L948.0 4.25 L942.0 4.03 L936.0 3.82 L930.0 3.61 L924.0 3.41 L918.0 3.20 L912.0 3.01 L906.0 2.83 L900.0 2.67 L894.0 2.53 L888.0 2.40 L882.0 2.29 L876.0 2.19 L870.0 2.10 L864.0 2.02 L858.0 1.94 L852.0 1.87 L846.0 1.80 L840.0 1.74 L834.0 1.68 L828.0 1.62 L822.0 1.57 L816.0 1.52 L810.0 1.46 L804.0 1.41 L798.0 1.35 L792.0 1.30 L786.0 1.25 L780.0 1.21 L774.0 1.19 L768.0 1.18 L762.0 1.18 L756.0 1.19 L750.0 1.20 L744.0 1.22 L738.0 1.24 L732.0 1.27 L726.0 1.30 L720.0 1.33 L714.0 1.36 L708.0 1.39 L702.0 1.42 L696.0 1.45 L690.0 1.49 L684.0 1.53 L678.0 1.58 L672.0 1.63 L666.0 1.68 L660.0 1.74 L654.0 1.79 L648.0 1.85 L642.0 1.91 L636.0 1.97 L630.0 2.03 L624.0 2.09 L618.0 2.15 L612.0 2.22 L606.0 2.29 L600.0 2.36 L594.0 2.43 L588.0 2.50 L582.0 2.57 L576.0 2.65 L570.0 2.73 L564.0 2.80 L558.0 2.88 L552.0 2.96 L546.0 3.04 L540.0 3.13 L534.0 3.22 L528.0 3.31 L522.0 3.40 L516.0 3.50 L510.0 3.61 L504.0 3.72 L498.0 4.33 L492.0 5.90 L486.0 7.49 L480.0 9.07 L474.0 10.67 L468.0 12.27 L462.0 13.87 L456.0 16.13 L450.0 18.51 L444.0 20.85 L438.0 23.06 L432.0 25.28 L426.0 27.51 L420.0 29.74 L414.0 31.98 L408.0 34.22 L402.0 36.47 L396.0 38.73 L390.0 40.98 L384.0 43.24 L378.0 45.51Z" fill="url(#g26)"/><path d="M378.0 44.51 L384.0 42.24 L390.0 39.98 L396.0 37.73 L402.0 35.47 L408.0 33.22 L414.0 30.98 L420.0 28.74 L426.0 26.51 L432.0 24.28 L438.0 22.06 L444.0 19.85 L450.0 17.51 L456.0 15.13 L462.0 12.87 L468.0 11.27 L474.0 9.67 L480.0 8.07 L486.0 6.49 L492.0 4.90 L498.0 3.33 L504.0 2.72 L510.0 2.61 L516.0 2.50 L522.0 2.40 L528.0 2.31 L534.0 2.22 L540.0 2.13 L546.0 2.04 L552.0 1.96 L558.0 1.88 L564.0 1.80 L570.0 1.73 L576.0 1.65 L582.0 1.57 L588.0 1.50 L594.0 1.43 L600.0 1.36 L606.0 1.29 L612.0 1.22 L618.0 1.15 L624.0 1.09 L630.0 1.03 L636.0 0.97 L642.0 0.91 L648.0 0.85 L654.0 0.79 L660.0 0.74 L666.0 0.68 L672.0 0.63 L678.0 0.58 L684.0 0.53 L690.0 0.49 L696.0 0.45 L702.0 0.42 L708.0 0.39 L714.0 0.36 L720.0 0.33 L726.0 0.30 L732.0 0.27 L738.0 0.24 L744.0 0.22 L750.0 0.20 L756.0 0.19 L762.0 0.18 L768.0 0.18 L774.0 0.19 L780.0 0.21 L786.0 0.25 L792.0 0.30 L798.0 0.35 L804.0 0.41 L810.0 0.46 L816.0 0.52 L822.0 0.57 L828.0 0.62 L834.0 0.68 L840.0 0.74 L846.0 0.80 L852.0 0.87 L858.0 0.94 L864.0 1.02 L870.0 1.10 L876.0 1.19 L882.0 1.29 L888.0 1.40 L894.0 1.53 L900.0 1.67 L906.0 1.83 L912.0 2.01 L918.0 2.20 L924.0 2.41 L930.0 2.61 L936.0 2.82 L942.0 3.03 L948.0 3.25 L954.0 3.48 L960.0 3.71 L966.0 3.95 L972.0 4.18 L978.0 4.42 L984.0 4.65 L990.0 4.89 L996.0 5.13 L1002.0 5.38 L1008.0 5.62 L1014.0 5.87 L1020.0 6.12 L1024.0 6.29 L1024.0 10.43 L1020.0 10.18 L1014.0 9.80 L1008.0 9.43 L1002.0 9.06 L996.0 8.70 L990.0 8.34 L984.0 7.98 L978.0 7.62 L972.0 7.27 L966.0 6.92 L960.0 6.57 L954.0 6.22 L948.0 5.88 L942.0 5.55 L936.0 5.23 L930.0 4.92 L924.0 4.61 L918.0 4.31 L912.0 4.01 L906.0 3.74 L900.0 3.50 L894.0 3.29 L888.0 3.11 L882.0 2.94 L876.0 2.79 L870.0 2.65 L864.0 2.53 L858.0 2.41 L852.0 2.31 L846.0 2.21 L840.0 2.11 L834.0 2.02 L828.0 1.94 L822.0 1.86 L816.0 1.78 L810.0 1.69 L804.0 1.61 L798.0 1.52 L792.0 1.44 L786.0 1.37 L780.0 1.32 L774.0 1.28 L768.0 1.27 L762.0 1.27 L756.0 1.29 L750.0 1.31 L744.0 1.33 L738.0 1.37 L732.0 1.40 L726.0 1.44 L720.0 1.49 L714.0 1.53 L708.0 1.58 L702.0 1.63 L696.0 1.68 L690.0 1.73 L684.0 1.80 L678.0 1.87 L672.0 1.94 L666.0 2.02 L660.0 2.10 L654.0 2.19 L648.0 2.28 L642.0 2.36 L636.0 2.45 L630.0 2.54 L624.0 2.63 L618.0 2.73 L612.0 2.83 L606.0 2.93 L600.0 3.04 L594.0 3.14 L588.0 3.25 L582.0 3.36 L576.0 3.48 L570.0 3.59 L564.0 3.71 L558.0 3.83 L552.0 3.95 L546.0 4.07 L540.0 4.19 L534.0 4.32 L528.0 4.46 L522.0 4.60 L516.0 4.75 L510.0 4.91 L504.0 5.08 L498.0 5.71 L492.0 7.23 L486.0 8.75 L480.0 10.29 L474.0 11.84 L468.0 13.39 L462.0 14.95 L456.0 17.11 L450.0 19.39 L444.0 21.62 L438.0 23.75 L432.0 25.89 L426.0 28.04 L420.0 30.20 L414.0 32.37 L408.0 34.54 L402.0 36.72 L396.0 38.91 L390.0 41.11 L384.0 43.31 L378.0 45.52Z" fill="url(#g27)"/><path d="M378.0 44.52 L384.0 42.31 L390.0 40.11 L396.0 37.91 L402.0 35.72 L408.0 33.54 L414.0 31.37 L420.0 29.20 L426.0 27.04 L432.0 24.89 L438.0 22.75 L444.0 20.62 L450.0 18.39 L456.0 16.11 L462.0 13.95 L468.0 12.39 L474.0 10.84 L480.0 9.29 L486.0 7.75 L492.0 6.23 L498.0 4.71 L504.0 4.08 L510.0 3.91 L516.0 3.75 L522.0 3.60 L528.0 3.46 L534.0 3.32 L540.0 3.19 L546.0 3.07 L552.0 2.95 L558.0 2.83 L564.0 2.71 L570.0 2.59 L576.0 2.48 L582.0 2.36 L588.0 2.25 L594.0 2.14 L600.0 2.04 L606.0 1.93 L612.0 1.83 L618.0 1.73 L624.0 1.63 L630.0 1.54 L636.0 1.45 L642.0 1.36 L648.0 1.28 L654.0 1.19 L660.0 1.10 L666.0 1.02 L672.0 0.94 L678.0 0.87 L684.0 0.80 L690.0 0.73 L696.0 0.68 L702.0 0.63 L708.0 0.58 L714.0 0.53 L720.0 0.49 L726.0 0.44 L732.0 0.40 L738.0 0.37 L744.0 0.33 L750.0 0.31 L756.0 0.29 L762.0 0.27 L768.0 0.27 L774.0 0.28 L780.0 0.32 L786.0 0.37 L792.0 0.44 L798.0 0.52 L804.0 0.61 L810.0 0.69 L816.0 0.78 L822.0 0.86 L828.0 0.94 L834.0 1.02 L840.0 1.11 L846.0 1.21 L852.0 1.31 L858.0 1.41 L864.0 1.53 L870.0 1.65 L876.0 1.79 L882.0 1.94 L888.0 2.11 L894.0 2.29 L900.0 2.50 L906.0 2.74 L912.0 3.01 L918.0 3.31 L924.0 3.61 L930.0 3.92 L936.0 4.23 L942.0 4.55 L948.0 4.88 L954.0 5.22 L960.0 5.57 L966.0 5.92 L972.0 6.27 L978.0 6.62 L984.0 6.98 L990.0 7.34 L996.0 7.70 L1002.0 8.06 L1008.0 8.43 L1014.0 8.80 L1020.0 9.18 L1024.0 9.43 L1024.0 13.57 L1020.0 13.24 L1014.0 12.74 L1008.0 12.24 L1002.0 11.75 L996.0 11.27 L990.0 10.78 L984.0 10.31 L978.0 9.83 L972.0 9.36 L966.0 8.90 L960.0 8.43 L954.0 7.96 L948.0 7.51 L942.0 7.06 L936.0 6.63 L930.0 6.22 L924.0 5.81 L918.0 5.41 L912.0 5.02 L906.0 4.66 L900.0 4.33 L894.0 4.05 L888.0 3.81 L882.0 3.58 L876.0 3.38 L870.0 3.20 L864.0 3.04 L858.0 2.88 L852.0 2.74 L846.0 2.61 L840.0 2.48 L834.0 2.36 L828.0 2.25 L822.0 2.14 L816.0 2.04 L810.0 1.93 L804.0 1.81 L798.0 1.70 L792.0 1.59 L786.0 1.50 L780.0 1.42 L774.0 1.37 L768.0 1.36 L762.0 1.36 L756.0 1.38 L750.0 1.41 L744.0 1.44 L738.0 1.49 L732.0 1.54 L726.0 1.59 L720.0 1.65 L714.0 1.71 L708.0 1.77 L702.0 1.84 L696.0 1.90 L690.0 1.98 L684.0 2.06 L678.0 2.15 L672.0 2.25 L666.0 2.36 L660.0 2.47 L654.0 2.59 L648.0 2.70 L642.0 2.82 L636.0 2.94 L630.0 3.06 L624.0 3.18 L618.0 3.31 L612.0 3.44 L606.0 3.58 L600.0 3.71 L594.0 3.86 L588.0 4.00 L582.0 4.15 L576.0 4.30 L570.0 4.45 L564.0 4.61 L558.0 4.77 L552.0 4.93 L546.0 5.09 L540.0 5.26 L534.0 5.43 L528.0 5.61 L522.0 5.80 L516.0 6.00 L510.0 6.22 L504.0 6.44 L498.0 7.09 L492.0 8.55 L486.0 10.02 L480.0 11.51 L474.0 13.00 L468.0 14.51 L462.0 16.02 L456.0 18.09 L450.0 20.26 L444.0 22.40 L438.0 24.44 L432.0 26.50 L426.0 28.57 L420.0 30.66 L414.0 32.75 L408.0 34.86 L402.0 36.97 L396.0 39.10 L390.0 41.23 L384.0 43.37 L378.0 45.52Z" fill="url(#g28)"/><path d="M378.0 44.52 L384.0 42.37 L390.0 40.23 L396.0 38.10 L402.0 35.97 L408.0 33.86 L414.0 31.75 L420.0 29.66 L426.0 27.57 L432.0 25.50 L438.0 23.44 L444.0 21.40 L450.0 19.26 L456.0 17.09 L462.0 15.02 L468.0 13.51 L474.0 12.00 L480.0 10.51 L486.0 9.02 L492.0 7.55 L498.0 6.09 L504.0 5.44 L510.0 5.22 L516.0 5.00 L522.0 4.80 L528.0 4.61 L534.0 4.43 L540.0 4.26 L546.0 4.09 L552.0 3.93 L558.0 3.77 L564.0 3.61 L570.0 3.45 L576.0 3.30 L582.0 3.15 L588.0 3.00 L594.0 2.86 L600.0 2.71 L606.0 2.58 L612.0 2.44 L618.0 2.31 L624.0 2.18 L630.0 2.06 L636.0 1.94 L642.0 1.82 L648.0 1.70 L654.0 1.59 L660.0 1.47 L666.0 1.36 L672.0 1.25 L678.0 1.15 L684.0 1.06 L690.0 0.98 L696.0 0.90 L702.0 0.84 L708.0 0.77 L714.0 0.71 L720.0 0.65 L726.0 0.59 L732.0 0.54 L738.0 0.49 L744.0 0.44 L750.0 0.41 L756.0 0.38 L762.0 0.36 L768.0 0.36 L774.0 0.37 L780.0 0.42 L786.0 0.50 L792.0 0.59 L798.0 0.70 L804.0 0.81 L810.0 0.93 L816.0 1.04 L822.0 1.14 L828.0 1.25 L834.0 1.36 L840.0 1.48 L846.0 1.61 L852.0 1.74 L858.0 1.88 L864.0 2.04 L870.0 2.20 L876.0 2.38 L882.0 2.58 L888.0 2.81 L894.0 3.05 L900.0 3.33 L906.0 3.66 L912.0 4.02 L918.0 4.41 L924.0 4.81 L930.0 5.22 L936.0 5.63 L942.0 6.06 L948.0 6.51 L954.0 6.96 L960.0 7.43 L966.0 7.90 L972.0 8.36 L978.0 8.83 L984.0 9.31 L990.0 9.78 L996.0 10.27 L1002.0 10.75 L1008.0 11.24 L1014.0 11.74 L1020.0 12.24 L1024.0 12.57 L1024.0 16.71 L1020.0 16.29 L1014.0 15.67 L1008.0 15.05 L1002.0 14.44 L996.0 13.83 L990.0 13.23 L984.0 12.63 L978.0 12.04 L972.0 11.45 L966.0 10.87 L960.0 10.28 L954.0 9.70 L948.0 9.13 L942.0 8.58 L936.0 8.04 L930.0 7.53 L924.0 7.02 L918.0 6.51 L912.0 6.02 L906.0 5.57 L900.0 5.17 L894.0 4.82 L888.0 4.51 L882.0 4.23 L876.0 3.98 L870.0 3.75 L864.0 3.54 L858.0 3.35 L852.0 3.18 L846.0 3.01 L840.0 2.85 L834.0 2.70 L828.0 2.56 L822.0 2.43 L816.0 2.30 L810.0 2.16 L804.0 2.01 L798.0 1.87 L792.0 1.74 L786.0 1.62 L780.0 1.53 L774.0 1.47 L768.0 1.45 L762.0 1.45 L756.0 1.48 L750.0 1.51 L744.0 1.55 L738.0 1.61 L732.0 1.67 L726.0 1.74 L720.0 1.81 L714.0 1.89 L708.0 1.97 L702.0 2.05 L696.0 2.13 L690.0 2.22 L684.0 2.33 L678.0 2.44 L672.0 2.57 L666.0 2.70 L660.0 2.84 L654.0 2.98 L648.0 3.13 L642.0 3.27 L636.0 3.42 L630.0 3.57 L624.0 3.72 L618.0 3.89 L612.0 4.05 L606.0 4.22 L600.0 4.39 L594.0 4.57 L588.0 4.75 L582.0 4.94 L576.0 5.13 L570.0 5.32 L564.0 5.51 L558.0 5.71 L552.0 5.91 L546.0 6.11 L540.0 6.32 L534.0 6.54 L528.0 6.76 L522.0 7.00 L516.0 7.25 L510.0 7.52 L504.0 7.80 L498.0 8.47 L492.0 9.87 L486.0 11.29 L480.0 12.73 L474.0 14.17 L468.0 15.63 L462.0 17.10 L456.0 19.06 L450.0 21.14 L444.0 23.17 L438.0 25.14 L432.0 27.11 L426.0 29.11 L420.0 31.12 L414.0 33.14 L408.0 35.18 L402.0 37.22 L396.0 39.28 L390.0 41.35 L384.0 43.43 L378.0 45.53Z" fill="url(#g29)"/><path d="M378.0 44.53 L384.0 42.43 L390.0 40.35 L396.0 38.28 L402.0 36.22 L408.0 34.18 L414.0 32.14 L420.0 30.12 L426.0 28.11 L432.0 26.11 L438.0 24.14 L444.0 22.17 L450.0 20.14 L456.0 18.06 L462.0 16.10 L468.0 14.63 L474.0 13.17 L480.0 11.73 L486.0 10.29 L492.0 8.87 L498.0 7.47 L504.0 6.80 L510.0 6.52 L516.0 6.25 L522.0 6.00 L528.0 5.76 L534.0 5.54 L540.0 5.32 L546.0 5.11 L552.0 4.91 L558.0 4.71 L564.0 4.51 L570.0 4.32 L576.0 4.13 L582.0 3.94 L588.0 3.75 L594.0 3.57 L600.0 3.39 L606.0 3.22 L612.0 3.05 L618.0 2.89 L624.0 2.72 L630.0 2.57 L636.0 2.42 L642.0 2.27 L648.0 2.13 L654.0 1.98 L660.0 1.84 L666.0 1.70 L672.0 1.57 L678.0 1.44 L684.0 1.33 L690.0 1.22 L696.0 1.13 L702.0 1.05 L708.0 0.97 L714.0 0.89 L720.0 0.81 L726.0 0.74 L732.0 0.67 L738.0 0.61 L744.0 0.55 L750.0 0.51 L756.0 0.48 L762.0 0.45 L768.0 0.45 L774.0 0.47 L780.0 0.53 L786.0 0.62 L792.0 0.74 L798.0 0.87 L804.0 1.01 L810.0 1.16 L816.0 1.30 L822.0 1.43 L828.0 1.56 L834.0 1.70 L840.0 1.85 L846.0 2.01 L852.0 2.18 L858.0 2.35 L864.0 2.54 L870.0 2.75 L876.0 2.98 L882.0 3.23 L888.0 3.51 L894.0 3.82 L900.0 4.17 L906.0 4.57 L912.0 5.02 L918.0 5.51 L924.0 6.02 L930.0 6.53 L936.0 7.04 L942.0 7.58 L948.0 8.13 L954.0 8.70 L960.0 9.28 L966.0 9.87 L972.0 10.45 L978.0 11.04 L984.0 11.63 L990.0 12.23 L996.0 12.83 L1002.0 13.44 L1008.0 14.05 L1014.0 14.67 L1020.0 15.29 L1024.0 15.71 L1024.0 19.86 L1020.0 19.35 L1014.0 18.60 L1008.0 17.86 L1002.0 17.13 L996.0 16.40 L990.0 15.68 L984.0 14.96 L978.0 14.25 L972.0 13.55 L966.0 12.84 L960.0 12.14 L954.0 11.44 L948.0 10.76 L942.0 10.09 L936.0 9.45 L930.0 8.84 L924.0 8.22 L918.0 7.61 L912.0 7.03 L906.0 6.49 L900.0 6.00 L894.0 5.58 L888.0 5.21 L882.0 4.87 L876.0 4.57 L870.0 4.30 L864.0 4.05 L858.0 3.82 L852.0 3.61 L846.0 3.41 L840.0 3.22 L834.0 3.04 L828.0 2.87 L822.0 2.71 L816.0 2.55 L810.0 2.39 L804.0 2.22 L798.0 2.04 L792.0 1.89 L786.0 1.75 L780.0 1.63 L774.0 1.56 L768.0 1.54 L762.0 1.54 L756.0 1.57 L750.0 1.61 L744.0 1.67 L738.0 1.73 L732.0 1.81 L726.0 1.89 L720.0 1.98 L714.0 2.07 L708.0 2.16 L702.0 2.25 L696.0 2.35 L690.0 2.46 L684.0 2.59 L678.0 2.73 L672.0 2.88 L666.0 3.04 L660.0 3.21 L654.0 3.38 L648.0 3.55 L642.0 3.73 L636.0 3.90 L630.0 4.08 L624.0 4.27 L618.0 4.46 L612.0 4.66 L606.0 4.86 L600.0 5.07 L594.0 5.29 L588.0 5.50 L582.0 5.72 L576.0 5.95 L570.0 6.18 L564.0 6.41 L558.0 6.65 L552.0 6.89 L546.0 7.13 L540.0 7.39 L534.0 7.65 L528.0 7.92 L522.0 8.20 L516.0 8.50 L510.0 8.82 L504.0 9.16 L498.0 9.85 L492.0 11.19 L486.0 12.56 L480.0 13.94 L474.0 15.34 L468.0 16.75 L462.0 18.18 L456.0 20.04 L450.0 22.01 L444.0 23.95 L438.0 25.83 L432.0 27.72 L426.0 29.64 L420.0 31.58 L414.0 33.53 L408.0 35.49 L402.0 37.48 L396.0 39.47 L390.0 41.48 L384.0 43.50 L378.0 45.54Z" fill="url(#g30)"/><path d="M378.0 44.54 L384.0 42.50 L390.0 40.48 L396.0 38.47 L402.0 36.48 L408.0 34.49 L414.0 32.53 L420.0 30.58 L426.0 28.64 L432.0 26.72 L438.0 24.83 L444.0 22.95 L450.0 21.01 L456.0 19.04 L462.0 17.18 L468.0 15.75 L474.0 14.34 L480.0 12.94 L486.0 11.56 L492.0 10.19 L498.0 8.85 L504.0 8.16 L510.0 7.82 L516.0 7.50 L522.0 7.20 L528.0 6.92 L534.0 6.65 L540.0 6.39 L546.0 6.13 L552.0 5.89 L558.0 5.65 L564.0 5.41 L570.0 5.18 L576.0 4.95 L582.0 4.72 L588.0 4.50 L594.0 4.29 L600.0 4.07 L606.0 3.86 L612.0 3.66 L618.0 3.46 L624.0 3.27 L630.0 3.08 L636.0 2.90 L642.0 2.73 L648.0 2.55 L654.0 2.38 L660.0 2.21 L666.0 2.04 L672.0 1.88 L678.0 1.73 L684.0 1.59 L690.0 1.46 L696.0 1.35 L702.0 1.25 L708.0 1.16 L714.0 1.07 L720.0 0.98 L726.0 0.89 L732.0 0.81 L738.0 0.73 L744.0 0.67 L750.0 0.61 L756.0 0.57 L762.0 0.54 L768.0 0.54 L774.0 0.56 L780.0 0.63 L786.0 0.75 L792.0 0.89 L798.0 1.04 L804.0 1.22 L810.0 1.39 L816.0 1.55 L822.0 1.71 L828.0 1.87 L834.0 2.04 L840.0 2.22 L846.0 2.41 L852.0 2.61 L858.0 2.82 L864.0 3.05 L870.0 3.30 L876.0 3.57 L882.0 3.87 L888.0 4.21 L894.0 4.58 L900.0 5.00 L906.0 5.49 L912.0 6.03 L918.0 6.61 L924.0 7.22 L930.0 7.84 L936.0 8.45 L942.0 9.09 L948.0 9.76 L954.0 10.44 L960.0 11.14 L966.0 11.84 L972.0 12.55 L978.0 13.25 L984.0 13.96 L990.0 14.68 L996.0 15.40 L1002.0 16.13 L1008.0 16.86 L1014.0 17.60 L1020.0 18.35 L1024.0 18.86 L1024.0 23.00 L1020.0 22.41 L1014.0 21.54 L1008.0 20.67 L1002.0 19.81 L996.0 18.96 L990.0 18.12 L984.0 17.29 L978.0 16.46 L972.0 15.64 L966.0 14.82 L960.0 14.00 L954.0 13.19 L948.0 12.39 L942.0 11.61 L936.0 10.86 L930.0 10.14 L924.0 9.42 L918.0 8.71 L912.0 8.03 L906.0 7.40 L900.0 6.83 L894.0 6.35 L888.0 5.91 L882.0 5.52 L876.0 5.17 L870.0 4.85 L864.0 4.56 L858.0 4.30 L852.0 4.05 L846.0 3.81 L840.0 3.59 L834.0 3.38 L828.0 3.19 L822.0 3.00 L816.0 2.81 L810.0 2.62 L804.0 2.42 L798.0 2.22 L792.0 2.03 L786.0 1.87 L780.0 1.74 L774.0 1.66 L768.0 1.62 L762.0 1.64 L756.0 1.67 L750.0 1.71 L744.0 1.78 L738.0 1.85 L732.0 1.94 L726.0 2.04 L720.0 2.14 L714.0 2.25 L708.0 2.35 L702.0 2.46 L696.0 2.58 L690.0 2.71 L684.0 2.86 L678.0 3.02 L672.0 3.20 L666.0 3.38 L660.0 3.58 L654.0 3.78 L648.0 3.98 L642.0 4.18 L636.0 4.39 L630.0 4.60 L624.0 4.81 L618.0 5.04 L612.0 5.27 L606.0 5.51 L600.0 5.75 L594.0 6.00 L588.0 6.25 L582.0 6.51 L576.0 6.78 L570.0 7.04 L564.0 7.32 L558.0 7.59 L552.0 7.87 L546.0 8.16 L540.0 8.45 L534.0 8.75 L528.0 9.07 L522.0 9.40 L516.0 9.75 L510.0 10.13 L504.0 10.52 L498.0 11.23 L492.0 12.52 L486.0 13.83 L480.0 15.16 L474.0 16.51 L468.0 17.87 L462.0 19.25 L456.0 21.02 L450.0 22.88 L444.0 24.72 L438.0 26.52 L432.0 28.34 L426.0 30.17 L420.0 32.03 L414.0 33.91 L408.0 35.81 L402.0 37.73 L396.0 39.66 L390.0 41.60 L384.0 43.56 L378.0 45.54Z" fill="url(#g31)"/><path d="M378.0 44.54 L384.0 42.56 L390.0 40.60 L396.0 38.66 L402.0 36.73 L408.0 34.81 L414.0 32.91 L420.0 31.03 L426.0 29.17 L432.0 27.34 L438.0 25.52 L444.0 23.72 L450.0 21.88 L456.0 20.02 L462.0 18.25 L468.0 16.87 L474.0 15.51 L480.0 14.16 L486.0 12.83 L492.0 11.52 L498.0 10.23 L504.0 9.52 L510.0 9.13 L516.0 8.75 L522.0 8.40 L528.0 8.07 L534.0 7.75 L540.0 7.45 L546.0 7.16 L552.0 6.87 L558.0 6.59 L564.0 6.32 L570.0 6.04 L576.0 5.78 L582.0 5.51 L588.0 5.25 L594.0 5.00 L600.0 4.75 L606.0 4.51 L612.0 4.27 L618.0 4.04 L624.0 3.81 L630.0 3.60 L636.0 3.39 L642.0 3.18 L648.0 2.98 L654.0 2.78 L660.0 2.58 L666.0 2.38 L672.0 2.20 L678.0 2.02 L684.0 1.86 L690.0 1.71 L696.0 1.58 L702.0 1.46 L708.0 1.35 L714.0 1.25 L720.0 1.14 L726.0 1.04 L732.0 0.94 L738.0 0.85 L744.0 0.78 L750.0 0.71 L756.0 0.67 L762.0 0.64 L768.0 0.62 L774.0 0.66 L780.0 0.74 L786.0 0.87 L792.0 1.03 L798.0 1.22 L804.0 1.42 L810.0 1.62 L816.0 1.81 L822.0 2.00 L828.0 2.19 L834.0 2.38 L840.0 2.59 L846.0 2.81 L852.0 3.05 L858.0 3.30 L864.0 3.56 L870.0 3.85 L876.0 4.17 L882.0 4.52 L888.0 4.91 L894.0 5.35 L900.0 5.83 L906.0 6.40 L912.0 7.03 L918.0 7.71 L924.0 8.42 L930.0 9.14 L936.0 9.86 L942.0 10.61 L948.0 11.39 L954.0 12.19 L960.0 13.00 L966.0 13.82 L972.0 14.64 L978.0 15.46 L984.0 16.29 L990.0 17.12 L996.0 17.96 L1002.0 18.81 L1008.0 19.67 L1014.0 20.54 L1020.0 21.41 L1024.0 22.00 L1024.0 26.14 L1020.0 25.47 L1014.0 24.47 L1008.0 23.48 L1002.0 22.50 L996.0 21.53 L990.0 20.57 L984.0 19.61 L978.0 18.67 L972.0 17.73 L966.0 16.79 L960.0 15.86 L954.0 14.93 L948.0 14.01 L942.0 13.12 L936.0 12.27 L930.0 11.45 L924.0 10.63 L918.0 9.82 L912.0 9.04 L906.0 8.32 L900.0 7.67 L894.0 7.11 L888.0 6.61 L882.0 6.16 L876.0 5.76 L870.0 5.40 L864.0 5.07 L858.0 4.77 L852.0 4.48 L846.0 4.21 L840.0 3.96 L834.0 3.72 L828.0 3.50 L822.0 3.28 L816.0 3.07 L810.0 2.85 L804.0 2.62 L798.0 2.39 L792.0 2.18 L786.0 1.99 L780.0 1.85 L774.0 1.75 L768.0 1.71 L762.0 1.73 L756.0 1.76 L750.0 1.82 L744.0 1.89 L738.0 1.97 L732.0 2.07 L726.0 2.18 L720.0 2.30 L714.0 2.42 L708.0 2.55 L702.0 2.67 L696.0 2.80 L690.0 2.95 L684.0 3.12 L678.0 3.31 L672.0 3.51 L666.0 3.72 L660.0 3.94 L654.0 4.17 L648.0 4.40 L642.0 4.64 L636.0 4.87 L630.0 5.11 L624.0 5.36 L618.0 5.62 L612.0 5.88 L606.0 6.15 L600.0 6.43 L594.0 6.71 L588.0 7.00 L582.0 7.30 L576.0 7.60 L570.0 7.91 L564.0 8.22 L558.0 8.53 L552.0 8.85 L546.0 9.18 L540.0 9.51 L534.0 9.86 L528.0 10.22 L522.0 10.60 L516.0 11.00 L510.0 11.43 L504.0 11.88 L498.0 12.61 L492.0 13.84 L486.0 15.10 L480.0 16.38 L474.0 17.67 L468.0 18.99 L462.0 20.33 L456.0 22.00 L450.0 23.76 L444.0 25.50 L438.0 27.21 L432.0 28.95 L426.0 30.71 L420.0 32.49 L414.0 34.30 L408.0 36.13 L402.0 37.98 L396.0 39.84 L390.0 41.72 L384.0 43.62 L378.0 45.55Z" fill="url(#g32)"/><path d="M378.0 44.55 L384.0 42.62 L390.0 40.72 L396.0 38.84 L402.0 36.98 L408.0 35.13 L414.0 33.30 L420.0 31.49 L426.0 29.71 L432.0 27.95 L438.0 26.21 L444.0 24.50 L450.0 22.76 L456.0 21.00 L462.0 19.33 L468.0 17.99 L474.0 16.67 L480.0 15.38 L486.0 14.10 L492.0 12.84 L498.0 11.61 L504.0 10.88 L510.0 10.43 L516.0 10.00 L522.0 9.60 L528.0 9.22 L534.0 8.86 L540.0 8.51 L546.0 8.18 L552.0 7.85 L558.0 7.53 L564.0 7.22 L570.0 6.91 L576.0 6.60 L582.0 6.30 L588.0 6.00 L594.0 5.71 L600.0 5.43 L606.0 5.15 L612.0 4.88 L618.0 4.62 L624.0 4.36 L630.0 4.11 L636.0 3.87 L642.0 3.64 L648.0 3.40 L654.0 3.17 L660.0 2.94 L666.0 2.72 L672.0 2.51 L678.0 2.31 L684.0 2.12 L690.0 1.95 L696.0 1.80 L702.0 1.67 L708.0 1.55 L714.0 1.42 L720.0 1.30 L726.0 1.18 L732.0 1.07 L738.0 0.97 L744.0 0.89 L750.0 0.82 L756.0 0.76 L762.0 0.73 L768.0 0.71 L774.0 0.75 L780.0 0.85 L786.0 0.99 L792.0 1.18 L798.0 1.39 L804.0 1.62 L810.0 1.85 L816.0 2.07 L822.0 2.28 L828.0 2.50 L834.0 2.72 L840.0 2.96 L846.0 3.21 L852.0 3.48 L858.0 3.77 L864.0 4.07 L870.0 4.40 L876.0 4.76 L882.0 5.16 L888.0 5.61 L894.0 6.11 L900.0 6.67 L906.0 7.32 L912.0 8.04 L918.0 8.82 L924.0 9.63 L930.0 10.45 L936.0 11.27 L942.0 12.12 L948.0 13.01 L954.0 13.93 L960.0 14.86 L966.0 15.79 L972.0 16.73 L978.0 17.67 L984.0 18.61 L990.0 19.57 L996.0 20.53 L1002.0 21.50 L1008.0 22.48 L1014.0 23.47 L1020.0 24.47 L1024.0 25.14 L1024.0 29.29 L1020.0 28.53 L1014.0 27.41 L1008.0 26.29 L1002.0 25.19 L996.0 24.10 L990.0 23.01 L984.0 21.94 L978.0 20.87 L972.0 19.82 L966.0 18.77 L960.0 17.71 L954.0 16.67 L948.0 15.64 L942.0 14.64 L936.0 13.68 L930.0 12.75 L924.0 11.83 L918.0 10.92 L912.0 10.04 L906.0 9.23 L900.0 8.50 L894.0 7.87 L888.0 7.32 L882.0 6.81 L876.0 6.36 L870.0 5.95 L864.0 5.58 L858.0 5.24 L852.0 4.92 L846.0 4.62 L840.0 4.33 L834.0 4.06 L828.0 3.81 L822.0 3.57 L816.0 3.33 L810.0 3.08 L804.0 2.82 L798.0 2.57 L792.0 2.33 L786.0 2.12 L780.0 1.95 L774.0 1.84 L768.0 1.80 L762.0 1.82 L756.0 1.86 L750.0 1.92 L744.0 2.00 L738.0 2.10 L732.0 2.21 L726.0 2.33 L720.0 2.46 L714.0 2.60 L708.0 2.74 L702.0 2.88 L696.0 3.03 L690.0 3.20 L684.0 3.39 L678.0 3.60 L672.0 3.82 L666.0 4.06 L660.0 4.31 L654.0 4.57 L648.0 4.83 L642.0 5.09 L636.0 5.35 L630.0 5.62 L624.0 5.90 L618.0 6.19 L612.0 6.49 L606.0 6.80 L600.0 7.11 L594.0 7.43 L588.0 7.75 L582.0 8.09 L576.0 8.43 L570.0 8.77 L564.0 9.12 L558.0 9.48 L552.0 9.84 L546.0 10.20 L540.0 10.58 L534.0 10.97 L528.0 11.38 L522.0 11.80 L516.0 12.26 L510.0 12.73 L504.0 13.25 L498.0 13.99 L492.0 15.16 L486.0 16.37 L480.0 17.59 L474.0 18.84 L468.0 20.11 L462.0 21.40 L456.0 22.98 L450.0 24.63 L444.0 26.28 L438.0 27.90 L432.0 29.56 L426.0 31.24 L420.0 32.95 L414.0 34.69 L408.0 36.45 L402.0 38.23 L396.0 40.03 L390.0 41.85 L384.0 43.68 L378.0 45.56Z" fill="url(#g33)"/><path d="M378.0 44.56 L384.0 42.68 L390.0 40.85 L396.0 39.03 L402.0 37.23 L408.0 35.45 L414.0 33.69 L420.0 31.95 L426.0 30.24 L432.0 28.56 L438.0 26.90 L444.0 25.28 L450.0 23.63 L456.0 21.98 L462.0 20.40 L468.0 19.11 L474.0 17.84 L480.0 16.59 L486.0 15.37 L492.0 14.16 L498.0 12.99 L504.0 12.25 L510.0 11.73 L516.0 11.26 L522.0 10.80 L528.0 10.38 L534.0 9.97 L540.0 9.58 L546.0 9.20 L552.0 8.84 L558.0 8.48 L564.0 8.12 L570.0 7.77 L576.0 7.43 L582.0 7.09 L588.0 6.75 L594.0 6.43 L600.0 6.11 L606.0 5.80 L612.0 5.49 L618.0 5.19 L624.0 4.90 L630.0 4.62 L636.0 4.35 L642.0 4.09 L648.0 3.83 L654.0 3.57 L660.0 3.31 L666.0 3.06 L672.0 2.82 L678.0 2.60 L684.0 2.39 L690.0 2.20 L696.0 2.03 L702.0 1.88 L708.0 1.74 L714.0 1.60 L720.0 1.46 L726.0 1.33 L732.0 1.21 L738.0 1.10 L744.0 1.00 L750.0 0.92 L756.0 0.86 L762.0 0.82 L768.0 0.80 L774.0 0.84 L780.0 0.95 L786.0 1.12 L792.0 1.33 L798.0 1.57 L804.0 1.82 L810.0 2.08 L816.0 2.33 L822.0 2.57 L828.0 2.81 L834.0 3.06 L840.0 3.33 L846.0 3.62 L852.0 3.92 L858.0 4.24 L864.0 4.58 L870.0 4.95 L876.0 5.36 L882.0 5.81 L888.0 6.32 L894.0 6.87 L900.0 7.50 L906.0 8.23 L912.0 9.04 L918.0 9.92 L924.0 10.83 L930.0 11.75 L936.0 12.68 L942.0 13.64 L948.0 14.64 L954.0 15.67 L960.0 16.71 L966.0 17.77 L972.0 18.82 L978.0 19.87 L984.0 20.94 L990.0 22.01 L996.0 23.10 L1002.0 24.19 L1008.0 25.29 L1014.0 26.41 L1020.0 27.53 L1024.0 28.29 L1024.0 32.43 L1020.0 31.59 L1014.0 30.34 L1008.0 29.10 L1002.0 27.88 L996.0 26.66 L990.0 25.46 L984.0 24.27 L978.0 23.08 L972.0 21.91 L966.0 20.74 L960.0 19.57 L954.0 18.41 L948.0 17.27 L942.0 16.16 L936.0 15.09 L930.0 14.06 L924.0 13.03 L918.0 12.02 L912.0 11.05 L906.0 10.14 L900.0 9.33 L894.0 8.64 L888.0 8.02 L882.0 7.46 L876.0 6.95 L870.0 6.50 L864.0 6.09 L858.0 5.71 L852.0 5.35 L846.0 5.02 L840.0 4.70 L834.0 4.40 L828.0 4.12 L822.0 3.85 L816.0 3.59 L810.0 3.31 L804.0 3.03 L798.0 2.74 L792.0 2.48 L786.0 2.24 L780.0 2.06 L774.0 1.94 L768.0 1.89 L762.0 1.91 L756.0 1.95 L750.0 2.02 L744.0 2.11 L738.0 2.22 L732.0 2.34 L726.0 2.48 L720.0 2.63 L714.0 2.78 L708.0 2.93 L702.0 3.09 L696.0 3.25 L690.0 3.44 L684.0 3.65 L678.0 3.89 L672.0 4.14 L666.0 4.40 L660.0 4.68 L654.0 4.97 L648.0 5.26 L642.0 5.55 L636.0 5.84 L630.0 6.14 L624.0 6.45 L618.0 6.77 L612.0 7.10 L606.0 7.44 L600.0 7.79 L594.0 8.14 L588.0 8.50 L582.0 8.87 L576.0 9.25 L570.0 9.63 L564.0 10.02 L558.0 10.42 L552.0 10.82 L546.0 11.22 L540.0 11.64 L534.0 12.08 L528.0 12.53 L522.0 13.00 L516.0 13.51 L510.0 14.04 L504.0 14.61 L498.0 15.37 L492.0 16.49 L486.0 17.63 L480.0 18.81 L474.0 20.01 L468.0 21.23 L462.0 22.48 L456.0 23.96 L450.0 25.50 L444.0 27.05 L438.0 28.59 L432.0 30.17 L426.0 31.77 L420.0 33.41 L414.0 35.07 L408.0 36.76 L402.0 38.48 L396.0 40.21 L390.0 41.97 L384.0 43.75 L378.0 45.56Z" fill="url(#g34)"/><path d="M378.0 44.56 L384.0 42.75 L390.0 40.97 L396.0 39.21 L402.0 37.48 L408.0 35.76 L414.0 34.07 L420.0 32.41 L426.0 30.77 L432.0 29.17 L438.0 27.59 L444.0 26.05 L450.0 24.50 L456.0 22.96 L462.0 21.48 L468.0 20.23 L474.0 19.01 L480.0 17.81 L486.0 16.63 L492.0 15.49 L498.0 14.37 L504.0 13.61 L510.0 13.04 L516.0 12.51 L522.0 12.00 L528.0 11.53 L534.0 11.08 L540.0 10.64 L546.0 10.22 L552.0 9.82 L558.0 9.42 L564.0 9.02 L570.0 8.63 L576.0 8.25 L582.0 7.87 L588.0 7.50 L594.0 7.14 L600.0 6.79 L606.0 6.44 L612.0 6.10 L618.0 5.77 L624.0 5.45 L630.0 5.14 L636.0 4.84 L642.0 4.55 L648.0 4.26 L654.0 3.97 L660.0 3.68 L666.0 3.40 L672.0 3.14 L678.0 2.89 L684.0 2.65 L690.0 2.44 L696.0 2.25 L702.0 2.09 L708.0 1.93 L714.0 1.78 L720.0 1.63 L726.0 1.48 L732.0 1.34 L738.0 1.22 L744.0 1.11 L750.0 1.02 L756.0 0.95 L762.0 0.91 L768.0 0.89 L774.0 0.94 L780.0 1.06 L786.0 1.24 L792.0 1.48 L798.0 1.74 L804.0 2.03 L810.0 2.31 L816.0 2.59 L822.0 2.85 L828.0 3.12 L834.0 3.40 L840.0 3.70 L846.0 4.02 L852.0 4.35 L858.0 4.71 L864.0 5.09 L870.0 5.50 L876.0 5.95 L882.0 6.46 L888.0 7.02 L894.0 7.64 L900.0 8.33 L906.0 9.14 L912.0 10.05 L918.0 11.02 L924.0 12.03 L930.0 13.06 L936.0 14.09 L942.0 15.16 L948.0 16.27 L954.0 17.41 L960.0 18.57 L966.0 19.74 L972.0 20.91 L978.0 22.08 L984.0 23.27 L990.0 24.46 L996.0 25.66 L1002.0 26.88 L1008.0 28.10 L1014.0 29.34 L1020.0 30.59 L1024.0 31.43 L1024.0 35.57 L1020.0 34.65 L1014.0 33.27 L1008.0 31.91 L1002.0 30.57 L996.0 29.23 L990.0 27.90 L984.0 26.59 L978.0 25.29 L972.0 24.00 L966.0 22.71 L960.0 21.43 L954.0 20.15 L948.0 18.89 L942.0 17.67 L936.0 16.50 L930.0 15.37 L924.0 14.24 L918.0 13.12 L912.0 12.05 L906.0 11.06 L900.0 10.17 L894.0 9.40 L888.0 8.72 L882.0 8.10 L876.0 7.55 L870.0 7.05 L864.0 6.60 L858.0 6.18 L852.0 5.79 L846.0 5.42 L840.0 5.07 L834.0 4.74 L828.0 4.43 L822.0 4.14 L816.0 3.85 L810.0 3.55 L804.0 3.23 L798.0 2.92 L792.0 2.62 L786.0 2.37 L780.0 2.16 L774.0 2.03 L768.0 1.98 L762.0 2.00 L756.0 2.05 L750.0 2.12 L744.0 2.22 L738.0 2.34 L732.0 2.48 L726.0 2.63 L720.0 2.79 L714.0 2.96 L708.0 3.13 L702.0 3.30 L696.0 3.48 L690.0 3.68 L684.0 3.92 L678.0 4.17 L672.0 4.45 L666.0 4.74 L660.0 5.05 L654.0 5.36 L648.0 5.68 L642.0 6.00 L636.0 6.32 L630.0 6.65 L624.0 6.99 L618.0 7.35 L612.0 7.71 L606.0 8.08 L600.0 8.47 L594.0 8.86 L588.0 9.26 L582.0 9.66 L576.0 10.08 L570.0 10.50 L564.0 10.93 L558.0 11.36 L552.0 11.80 L546.0 12.25 L540.0 12.71 L534.0 13.18 L528.0 13.68 L522.0 14.20 L516.0 14.76 L510.0 15.34 L504.0 15.97 L498.0 16.75 L492.0 17.81 L486.0 18.90 L480.0 20.03 L474.0 21.18 L468.0 22.36 L462.0 23.56 L456.0 24.94 L450.0 26.38 L444.0 27.83 L438.0 29.29 L432.0 30.78 L426.0 32.31 L420.0 33.87 L414.0 35.46 L408.0 37.08 L402.0 38.73 L396.0 40.40 L390.0 42.10 L384.0 43.81 L378.0 45.57Z" fill="url(#g35)"/><path d="M378.0 44.57 L384.0 42.81 L390.0 41.10 L396.0 39.40 L402.0 37.73 L408.0 36.08 L414.0 34.46 L420.0 32.87 L426.0 31.31 L432.0 29.78 L438.0 28.29 L444.0 26.83 L450.0 25.38 L456.0 23.94 L462.0 22.56 L468.0 21.36 L474.0 20.18 L480.0 19.03 L486.0 17.90 L492.0 16.81 L498.0 15.75 L504.0 14.97 L510.0 14.34 L516.0 13.76 L522.0 13.20 L528.0 12.68 L534.0 12.18 L540.0 11.71 L546.0 11.25 L552.0 10.80 L558.0 10.36 L564.0 9.93 L570.0 9.50 L576.0 9.08 L582.0 8.66 L588.0 8.26 L594.0 7.86 L600.0 7.47 L606.0 7.08 L612.0 6.71 L618.0 6.35 L624.0 5.99 L630.0 5.65 L636.0 5.32 L642.0 5.00 L648.0 4.68 L654.0 4.36 L660.0 4.05 L666.0 3.74 L672.0 3.45 L678.0 3.17 L684.0 2.92 L690.0 2.68 L696.0 2.48 L702.0 2.30 L708.0 2.13 L714.0 1.96 L720.0 1.79 L726.0 1.63 L732.0 1.48 L738.0 1.34 L744.0 1.22 L750.0 1.12 L756.0 1.05 L762.0 1.00 L768.0 0.98 L774.0 1.03 L780.0 1.16 L786.0 1.37 L792.0 1.62 L798.0 1.92 L804.0 2.23 L810.0 2.55 L816.0 2.85 L822.0 3.14 L828.0 3.43 L834.0 3.74 L840.0 4.07 L846.0 4.42 L852.0 4.79 L858.0 5.18 L864.0 5.60 L870.0 6.05 L876.0 6.55 L882.0 7.10 L888.0 7.72 L894.0 8.40 L900.0 9.17 L906.0 10.06 L912.0 11.05 L918.0 12.12 L924.0 13.24 L930.0 14.37 L936.0 15.50 L942.0 16.67 L948.0 17.89 L954.0 19.15 L960.0 20.43 L966.0 21.71 L972.0 23.00 L978.0 24.29 L984.0 25.59 L990.0 26.90 L996.0 28.23 L1002.0 29.57 L1008.0 30.91 L1014.0 32.27 L1020.0 33.65 L1024.0 34.57 L1024.0 38.71 L1020.0 37.71 L1014.0 36.21 L1008.0 34.72 L1002.0 33.25 L996.0 31.80 L990.0 30.35 L984.0 28.92 L978.0 27.50 L972.0 26.09 L966.0 24.69 L960.0 23.28 L954.0 21.89 L948.0 20.52 L942.0 19.19 L936.0 17.90 L930.0 16.67 L924.0 15.44 L918.0 14.22 L912.0 13.06 L906.0 11.97 L900.0 11.00 L894.0 10.16 L888.0 9.42 L882.0 8.75 L876.0 8.14 L870.0 7.60 L864.0 7.11 L858.0 6.65 L852.0 6.22 L846.0 5.82 L840.0 5.44 L834.0 5.09 L828.0 4.75 L822.0 4.42 L816.0 4.11 L810.0 3.78 L804.0 3.43 L798.0 3.09 L792.0 2.77 L786.0 2.49 L780.0 2.27 L774.0 2.12 L768.0 2.07 L762.0 2.09 L756.0 2.14 L750.0 2.22 L744.0 2.33 L738.0 2.46 L732.0 2.61 L726.0 2.78 L720.0 2.95 L714.0 3.13 L708.0 3.32 L702.0 3.51 L696.0 3.70 L690.0 3.93 L684.0 4.18 L678.0 4.46 L672.0 4.76 L666.0 5.08 L660.0 5.42 L654.0 5.76 L648.0 6.11 L642.0 6.46 L636.0 6.81 L630.0 7.17 L624.0 7.54 L618.0 7.92 L612.0 8.32 L606.0 8.73 L600.0 9.14 L594.0 9.57 L588.0 10.01 L582.0 10.45 L576.0 10.90 L570.0 11.36 L564.0 11.83 L558.0 12.30 L552.0 12.78 L546.0 13.27 L540.0 13.77 L534.0 14.29 L528.0 14.83 L522.0 15.40 L516.0 16.01 L510.0 16.65 L504.0 17.33 L498.0 18.13 L492.0 19.13 L486.0 20.17 L480.0 21.24 L474.0 22.35 L468.0 23.48 L462.0 24.63 L456.0 25.92 L450.0 27.25 L444.0 28.60 L438.0 29.98 L432.0 31.39 L426.0 32.84 L420.0 34.33 L414.0 35.85 L408.0 37.40 L402.0 38.98 L396.0 40.59 L390.0 42.22 L384.0 43.87 L378.0 45.57Z" fill="url(#g36)"/><path d="M378.0 44.57 L384.0 42.87 L390.0 41.22 L396.0 39.59 L402.0 37.98 L408.0 36.40 L414.0 34.85 L420.0 33.33 L426.0 31.84 L432.0 30.39 L438.0 28.98 L444.0 27.60 L450.0 26.25 L456.0 24.92 L462.0 23.63 L468.0 22.48 L474.0 21.35 L480.0 20.24 L486.0 19.17 L492.0 18.13 L498.0 17.13 L504.0 16.33 L510.0 15.65 L516.0 15.01 L522.0 14.40 L528.0 13.83 L534.0 13.29 L540.0 12.77 L546.0 12.27 L552.0 11.78 L558.0 11.30 L564.0 10.83 L570.0 10.36 L576.0 9.90 L582.0 9.45 L588.0 9.01 L594.0 8.57 L600.0 8.14 L606.0 7.73 L612.0 7.32 L618.0 6.92 L624.0 6.54 L630.0 6.17 L636.0 5.81 L642.0 5.46 L648.0 5.11 L654.0 4.76 L660.0 4.42 L666.0 4.08 L672.0 3.76 L678.0 3.46 L684.0 3.18 L690.0 2.93 L696.0 2.70 L702.0 2.51 L708.0 2.32 L714.0 2.13 L720.0 1.95 L726.0 1.78 L732.0 1.61 L738.0 1.46 L744.0 1.33 L750.0 1.22 L756.0 1.14 L762.0 1.09 L768.0 1.07 L774.0 1.12 L780.0 1.27 L786.0 1.49 L792.0 1.77 L798.0 2.09 L804.0 2.43 L810.0 2.78 L816.0 3.11 L822.0 3.42 L828.0 3.75 L834.0 4.09 L840.0 4.44 L846.0 4.82 L852.0 5.22 L858.0 5.65 L864.0 6.11 L870.0 6.60 L876.0 7.14 L882.0 7.75 L888.0 8.42 L894.0 9.16 L900.0 10.00 L906.0 10.97 L912.0 12.06 L918.0 13.22 L924.0 14.44 L930.0 15.67 L936.0 16.90 L942.0 18.19 L948.0 19.52 L954.0 20.89 L960.0 22.28 L966.0 23.69 L972.0 25.09 L978.0 26.50 L984.0 27.92 L990.0 29.35 L996.0 30.80 L1002.0 32.25 L1008.0 33.72 L1014.0 35.21 L1020.0 36.71 L1024.0 37.71 L1024.0 41.86 L1020.0 40.77 L1014.0 39.14 L1008.0 37.53 L1002.0 35.94 L996.0 34.36 L990.0 32.80 L984.0 31.24 L978.0 29.71 L972.0 28.18 L966.0 26.66 L960.0 25.14 L954.0 23.63 L948.0 22.15 L942.0 20.70 L936.0 19.31 L930.0 17.98 L924.0 16.64 L918.0 15.33 L912.0 14.06 L906.0 12.89 L900.0 11.83 L894.0 10.93 L888.0 10.12 L882.0 9.39 L876.0 8.74 L870.0 8.15 L864.0 7.62 L858.0 7.12 L852.0 6.66 L846.0 6.22 L840.0 5.81 L834.0 5.43 L828.0 5.06 L822.0 4.71 L816.0 4.37 L810.0 4.01 L804.0 3.63 L798.0 3.26 L792.0 2.92 L786.0 2.62 L780.0 2.38 L774.0 2.22 L768.0 2.16 L762.0 2.18 L756.0 2.24 L750.0 2.32 L744.0 2.44 L738.0 2.58 L732.0 2.74 L726.0 2.92 L720.0 3.11 L714.0 3.31 L708.0 3.52 L702.0 3.72 L696.0 3.93 L690.0 4.17 L684.0 4.45 L678.0 4.75 L672.0 5.08 L666.0 5.42 L660.0 5.79 L654.0 6.16 L648.0 6.53 L642.0 6.91 L636.0 7.29 L630.0 7.68 L624.0 8.08 L618.0 8.50 L612.0 8.93 L606.0 9.37 L600.0 9.82 L594.0 10.28 L588.0 10.76 L582.0 11.24 L576.0 11.73 L570.0 12.22 L564.0 12.73 L558.0 13.24 L552.0 13.76 L546.0 14.29 L540.0 14.83 L534.0 15.40 L528.0 15.99 L522.0 16.60 L516.0 17.26 L510.0 17.95 L504.0 18.69 L498.0 19.51 L492.0 20.46 L486.0 21.44 L480.0 22.46 L474.0 23.51 L468.0 24.60 L462.0 25.71 L456.0 26.90 L450.0 28.13 L444.0 29.38 L438.0 30.67 L432.0 32.00 L426.0 33.37 L420.0 34.79 L414.0 36.23 L408.0 37.72 L402.0 39.23 L396.0 40.77 L390.0 42.34 L384.0 43.94 L378.0 45.58Z" fill="url(#g37)"/><path d="M378.0 44.58 L384.0 42.94 L390.0 41.34 L396.0 39.77 L402.0 38.23 L408.0 36.72 L414.0 35.23 L420.0 33.79 L426.0 32.37 L432.0 31.00 L438.0 29.67 L444.0 28.38 L450.0 27.13 L456.0 25.90 L462.0 24.71 L468.0 23.60 L474.0 22.51 L480.0 21.46 L486.0 20.44 L492.0 19.46 L498.0 18.51 L504.0 17.69 L510.0 16.95 L516.0 16.26 L522.0 15.60 L528.0 14.99 L534.0 14.40 L540.0 13.83 L546.0 13.29 L552.0 12.76 L558.0 12.24 L564.0 11.73 L570.0 11.22 L576.0 10.73 L582.0 10.24 L588.0 9.76 L594.0 9.28 L600.0 8.82 L606.0 8.37 L612.0 7.93 L618.0 7.50 L624.0 7.08 L630.0 6.68 L636.0 6.29 L642.0 5.91 L648.0 5.53 L654.0 5.16 L660.0 4.79 L666.0 4.42 L672.0 4.08 L678.0 3.75 L684.0 3.45 L690.0 3.17 L696.0 2.93 L702.0 2.72 L708.0 2.52 L714.0 2.31 L720.0 2.11 L726.0 1.92 L732.0 1.74 L738.0 1.58 L744.0 1.44 L750.0 1.32 L756.0 1.24 L762.0 1.18 L768.0 1.16 L774.0 1.22 L780.0 1.38 L786.0 1.62 L792.0 1.92 L798.0 2.26 L804.0 2.63 L810.0 3.01 L816.0 3.37 L822.0 3.71 L828.0 4.06 L834.0 4.43 L840.0 4.81 L846.0 5.22 L852.0 5.66 L858.0 6.12 L864.0 6.62 L870.0 7.15 L876.0 7.74 L882.0 8.39 L888.0 9.12 L894.0 9.93 L900.0 10.83 L906.0 11.89 L912.0 13.06 L918.0 14.33 L924.0 15.64 L930.0 16.98 L936.0 18.31 L942.0 19.70 L948.0 21.15 L954.0 22.63 L960.0 24.14 L966.0 25.66 L972.0 27.18 L978.0 28.71 L984.0 30.24 L990.0 31.80 L996.0 33.36 L1002.0 34.94 L1008.0 36.53 L1014.0 38.14 L1020.0 39.77 L1024.0 40.86 L1024.0 45.00 L1020.0 43.83 L1014.0 42.08 L1008.0 40.34 L1002.0 38.63 L996.0 36.93 L990.0 35.24 L984.0 33.57 L978.0 31.91 L972.0 30.27 L966.0 28.64 L960.0 27.00 L954.0 25.37 L948.0 23.77 L942.0 22.22 L936.0 20.72 L930.0 19.28 L924.0 17.85 L918.0 16.43 L912.0 15.07 L906.0 13.80 L900.0 12.67 L894.0 11.69 L888.0 10.82 L882.0 10.04 L876.0 9.33 L870.0 8.70 L864.0 8.12 L858.0 7.59 L852.0 7.09 L846.0 6.62 L840.0 6.18 L834.0 5.77 L828.0 5.37 L822.0 4.99 L816.0 4.63 L810.0 4.24 L804.0 3.84 L798.0 3.44 L792.0 3.07 L786.0 2.74 L780.0 2.48 L774.0 2.31 L768.0 2.25 L762.0 2.27 L756.0 2.33 L750.0 2.43 L744.0 2.55 L738.0 2.70 L732.0 2.88 L726.0 3.07 L720.0 3.28 L714.0 3.49 L708.0 3.71 L702.0 3.93 L696.0 4.15 L690.0 4.42 L684.0 4.71 L678.0 5.04 L672.0 5.39 L666.0 5.77 L660.0 6.15 L654.0 6.55 L648.0 6.96 L642.0 7.36 L636.0 7.77 L630.0 8.19 L624.0 8.63 L618.0 9.08 L612.0 9.54 L606.0 10.02 L600.0 10.50 L594.0 11.00 L588.0 11.51 L582.0 12.02 L576.0 12.55 L570.0 13.09 L564.0 13.63 L558.0 14.18 L552.0 14.74 L546.0 15.31 L540.0 15.90 L534.0 16.51 L528.0 17.14 L522.0 17.81 L516.0 18.51 L510.0 19.25 L504.0 20.05 L498.0 20.89 L492.0 21.78 L486.0 22.71 L480.0 23.68 L474.0 24.68 L468.0 25.72 L462.0 26.79 L456.0 27.88 L450.0 29.00 L444.0 30.16 L438.0 31.36 L432.0 32.61 L426.0 33.91 L420.0 35.24 L414.0 36.62 L408.0 38.03 L402.0 39.48 L396.0 40.96 L390.0 42.47 L384.0 44.00 L378.0 45.59Z" fill="url(#g38)"/><path d="M968 0 L1024 0 L1024 37 Z" fill="url(#corner)"/><path d="M967 0 L976 0 L1024 28 L1024 39 Z" fill="#10989a" filter="url(#blur1)"/></svg><!--/SWOOSH-->
<!--TITLE-->
<div class="tw" style="left:86.61px;top:67.0px;transform:scaleX(0.7960)">CORE</div>
<div class="tw" style="left:204.14px;top:67.0px;transform:scaleX(0.9152)">INFLATION</div>
<div class="tw" style="left:427.58px;top:67.0px;transform:scaleX(0.8559)">MEASURES</div>
<div class="tw" style="left:656.15px;top:67.0px;transform:scaleX(0.8618)">FELL</div>
<div class="tw" style="left:761.50px;top:67.0px;transform:scaleX(0.8926)">AGAIN</div>
<div class="tw" style="left:896.16px;top:67.0px;transform:scaleX(0.9595)">IN</div>
<div class="tw" style="left:418.71px;top:112.9px;transform:scaleX(0.8461)">OCTOBER</div>
<!--/TITLE-->
<!--SUB-->
<div class="sw" style="left:84.48px;top:213.5px;transform:scaleX(0.8583)">CPI</div>
<div class="sw" style="left:138.45px;top:213.5px;transform:scaleX(0.9507)">Trimmed-Mean</div>
<div class="sw" style="left:545.08px;top:213.5px;transform:scaleX(0.8583)">CPI</div>
<div class="sw" style="left:598.12px;top:213.5px;transform:scaleX(0.9612)">Median</div>
<!--/SUB-->
<!--CHARTS-->
<svg class="abs" style="left:0;top:0" width="1024" height="576" viewBox="0 0 1024 576" font-family="Liberation Sans, sans-serif">
<rect x="29" y="285" width="443" height="199" fill="#fff"/>
<line x1="49.3" y1="445.20" x2="437" y2="445.20" stroke="#efefef" stroke-width="1"/>
<line x1="49.3" y1="419.25" x2="437" y2="419.25" stroke="#efefef" stroke-width="1"/>
<line x1="49.3" y1="393.30" x2="437" y2="393.30" stroke="#efefef" stroke-width="1"/>
<line x1="49.3" y1="367.35" x2="437" y2="367.35" stroke="#efefef" stroke-width="1"/>
<line x1="49.3" y1="341.40" x2="437" y2="341.40" stroke="#efefef" stroke-width="1"/>
<line x1="49.3" y1="315.45" x2="437" y2="315.45" stroke="#efefef" stroke-width="1"/>
<line x1="49.3" y1="289.50" x2="437" y2="289.50" stroke="#efefef" stroke-width="1"/>
<line x1="138.70" y1="289.50" x2="138.70" y2="445.20" stroke="#f0f0f0" stroke-width="1"/>
<line x1="228.52" y1="289.50" x2="228.52" y2="445.20" stroke="#f0f0f0" stroke-width="1"/>
<line x1="319.34" y1="289.50" x2="319.34" y2="445.20" stroke="#f0f0f0" stroke-width="1"/>
<line x1="411.15" y1="289.50" x2="411.15" y2="445.20" stroke="#f0f0f0" stroke-width="1"/>
<rect x="66.82" y="315.45" width="22" height="129.75" fill="#4682b4"/>
<text x="77.82" y="310.85" font-size="7.6" fill="#7a7a7a" text-anchor="middle">5.5</text>
<rect x="96.76" y="325.83" width="22" height="119.37" fill="#4682b4"/>
<text x="107.76" y="321.23" font-size="7.6" fill="#7a7a7a" text-anchor="middle">5.3</text>
<rect x="127.70" y="336.21" width="22" height="108.99" fill="#4682b4"/>
<text x="138.70" y="331.61" font-size="7.6" fill="#7a7a7a" text-anchor="middle">5.1</text>
<rect x="158.64" y="351.78" width="22" height="93.42" fill="#4682b4"/>
<text x="169.64" y="347.18" font-size="7.6" fill="#7a7a7a" text-anchor="middle">4.8</text>
<rect x="186.58" y="372.54" width="22" height="72.66" fill="#4682b4"/>
<text x="197.58" y="367.94" font-size="7.6" fill="#7a7a7a" text-anchor="middle">4.4</text>
<rect x="217.52" y="382.92" width="22" height="62.28" fill="#4682b4"/>
<text x="228.52" y="378.32" font-size="7.6" fill="#7a7a7a" text-anchor="middle">4.2</text>
<rect x="247.46" y="403.68" width="22" height="41.52" fill="#4682b4"/>
<text x="258.46" y="399.08" font-size="7.6" fill="#7a7a7a" text-anchor="middle">3.8</text>
<rect x="278.40" y="408.87" width="22" height="36.33" fill="#4682b4"/>
<text x="289.40" y="404.27" font-size="7.6" fill="#7a7a7a" text-anchor="middle">3.7</text>
<rect x="308.34" y="414.06" width="22" height="31.14" fill="#4682b4"/>
<text x="319.34" y="409.46" font-size="7.6" fill="#7a7a7a" text-anchor="middle">3.6</text>
<rect x="339.28" y="398.49" width="22" height="46.71" fill="#4682b4"/>
<text x="350.28" y="393.89" font-size="7.6" fill="#7a7a7a" text-anchor="middle">3.9</text>
<rect x="370.21" y="408.87" width="22" height="36.33" fill="#4682b4"/>
<text x="381.21" y="404.27" font-size="7.6" fill="#7a7a7a" text-anchor="middle">3.7</text>
<rect x="400.15" y="419.25" width="22" height="25.95" fill="#4682b4"/>
<text x="411.15" y="414.65" font-size="7.6" fill="#7a7a7a" text-anchor="middle">3.5</text>
<text x="440.5" y="447.80" font-size="7.4" fill="#3a3a3a">3</text>
<text x="440.5" y="421.85" font-size="7.4" fill="#3a3a3a">3.5</text>
<text x="440.5" y="395.90" font-size="7.4" fill="#3a3a3a">4</text>
<text x="440.5" y="369.95" font-size="7.4" fill="#3a3a3a">4.5</text>
<text x="440.5" y="344.00" font-size="7.4" fill="#3a3a3a">5</text>
<text x="440.5" y="318.05" font-size="7.4" fill="#3a3a3a">5.5</text>
<text x="440.5" y="292.10" font-size="7.4" fill="#3a3a3a">6</text>
<text x="138.70" y="455.3" font-size="7.4" fill="#303030" text-anchor="middle">Jan 2023</text>
<text x="228.52" y="455.3" font-size="7.4" fill="#303030" text-anchor="middle">Apr 2023</text>
<text x="319.34" y="455.3" font-size="7.4" fill="#303030" text-anchor="middle">Jul 2023</text>
<text x="411.15" y="455.3" font-size="7.4" fill="#303030" text-anchor="middle">Oct 2023</text>
<text x="333" y="472.6" font-size="5.4" fill="#9a9a9a" textLength="111" lengthAdjust="spacingAndGlyphs">TRADINGECONOMICS.COM  |  BANK OF CANADA</text>
<rect x="514" y="285" width="417" height="199" fill="#fff"/>
<line x1="516" y1="443.00" x2="901" y2="443.00" stroke="#efefef" stroke-width="1"/>
<line x1="516" y1="425.62" x2="901" y2="425.62" stroke="#efefef" stroke-width="1"/>
<line x1="516" y1="408.24" x2="901" y2="408.24" stroke="#efefef" stroke-width="1"/>
<line x1="516" y1="390.86" x2="901" y2="390.86" stroke="#efefef" stroke-width="1"/>
<line x1="516" y1="373.48" x2="901" y2="373.48" stroke="#efefef" stroke-width="1"/>
<line x1="516" y1="356.10" x2="901" y2="356.10" stroke="#efefef" stroke-width="1"/>
<line x1="516" y1="338.72" x2="901" y2="338.72" stroke="#efefef" stroke-width="1"/>
<line x1="516" y1="321.34" x2="901" y2="321.34" stroke="#efefef" stroke-width="1"/>
<line x1="516" y1="303.96" x2="901" y2="303.96" stroke="#efefef" stroke-width="1"/>
<line x1="516" y1="286.58" x2="901" y2="286.58" stroke="#efefef" stroke-width="1"/>
<line x1="597.30" y1="286.58" x2="597.30" y2="443.00" stroke="#f0f0f0" stroke-width="1"/>
<line x1="688.98" y1="286.58" x2="688.98" y2="443.00" stroke="#f0f0f0" stroke-width="1"/>
<line x1="781.68" y1="286.58" x2="781.68" y2="443.00" stroke="#f0f0f0" stroke-width="1"/>
<line x1="875.41" y1="286.58" x2="875.41" y2="443.00" stroke="#f0f0f0" stroke-width="1"/>
<rect x="523.91" y="303.96" width="22.5" height="139.04" fill="#4682b4"/>
<text x="535.16" y="299.36" font-size="7.2" fill="#7a7a7a" text-anchor="middle">5</text>
<rect x="554.47" y="312.65" width="22.5" height="130.35" fill="#4682b4"/>
<text x="565.72" y="308.05" font-size="7.2" fill="#7a7a7a" text-anchor="middle">4.9</text>
<rect x="586.05" y="321.34" width="22.5" height="121.66" fill="#4682b4"/>
<text x="597.30" y="316.74" font-size="7.2" fill="#7a7a7a" text-anchor="middle">4.8</text>
<rect x="617.63" y="338.72" width="22.5" height="104.28" fill="#4682b4"/>
<text x="628.88" y="334.12" font-size="7.2" fill="#7a7a7a" text-anchor="middle">4.6</text>
<rect x="646.15" y="356.10" width="22.5" height="86.90" fill="#4682b4"/>
<text x="657.40" y="351.50" font-size="7.2" fill="#7a7a7a" text-anchor="middle">4.4</text>
<rect x="677.73" y="382.17" width="22.5" height="60.83" fill="#4682b4"/>
<text x="688.98" y="377.57" font-size="7.2" fill="#7a7a7a" text-anchor="middle">4.1</text>
<rect x="708.29" y="416.93" width="22.5" height="26.07" fill="#4682b4"/>
<text x="719.54" y="412.33" font-size="7.2" fill="#7a7a7a" text-anchor="middle">3.7</text>
<rect x="739.87" y="399.55" width="22.5" height="43.45" fill="#4682b4"/>
<text x="751.12" y="394.95" font-size="7.2" fill="#7a7a7a" text-anchor="middle">3.9</text>
<rect x="770.43" y="399.55" width="22.5" height="43.45" fill="#4682b4"/>
<text x="781.68" y="394.95" font-size="7.2" fill="#7a7a7a" text-anchor="middle">3.9</text>
<rect x="802.01" y="382.17" width="22.5" height="60.83" fill="#4682b4"/>
<text x="813.26" y="377.57" font-size="7.2" fill="#7a7a7a" text-anchor="middle">4.1</text>
<rect x="833.59" y="399.55" width="22.5" height="43.45" fill="#4682b4"/>
<text x="844.84" y="394.95" font-size="7.2" fill="#7a7a7a" text-anchor="middle">3.9</text>
<rect x="864.16" y="425.62" width="22.5" height="17.38" fill="#4682b4"/>
<text x="875.41" y="421.02" font-size="7.2" fill="#7a7a7a" text-anchor="middle">3.6</text>
<text x="905.5" y="445.60" font-size="7.2" fill="#3a3a3a">3.4</text>
<text x="905.5" y="428.22" font-size="7.2" fill="#3a3a3a">3.6</text>
<text x="905.5" y="410.84" font-size="7.2" fill="#3a3a3a">3.8</text>
<text x="905.5" y="393.46" font-size="7.2" fill="#3a3a3a">4</text>
<text x="905.5" y="376.08" font-size="7.2" fill="#3a3a3a">4.2</text>
<text x="905.5" y="358.70" font-size="7.2" fill="#3a3a3a">4.4</text>
<text x="905.5" y="341.32" font-size="7.2" fill="#3a3a3a">4.6</text>
<text x="905.5" y="323.94" font-size="7.2" fill="#3a3a3a">4.8</text>
<text x="905.5" y="306.56" font-size="7.2" fill="#3a3a3a">5</text>
<text x="905.5" y="289.18" font-size="7.2" fill="#3a3a3a">5.2</text>
<text x="597.30" y="453.2" font-size="7.2" fill="#303030" text-anchor="middle">Jan 2023</text>
<text x="688.98" y="453.2" font-size="7.2" fill="#303030" text-anchor="middle">Apr 2023</text>
<text x="781.68" y="453.2" font-size="7.2" fill="#303030" text-anchor="middle">Jul 2023</text>
<text x="875.41" y="453.2" font-size="7.2" fill="#303030" text-anchor="middle">Oct 2023</text>
<text x="795.5" y="470.2" font-size="5.4" fill="#9a9a9a" textLength="114" lengthAdjust="spacingAndGlyphs">TRADINGECONOMICS.COM  |  BANK OF CANADA</text>
</svg>
<!--/CHARTS-->
<!--LOGO--><svg class="abs" style="left:0;top:0" width="1024" height="576" viewBox="0 0 1024 576">
<rect x="776.4" y="523.1" width="235.4" height="41.4" fill="#0e27a0" stroke="#eef0f8" stroke-width="2"/>
<path d="M805 531.2 L825.8 536.4 L825.8 537.6 L784.4 537.6 L784.4 536.4 Z" fill="#e6e2d0"/>
<path d="M798 534.5 L812 534.5 L809 536.2 L801 536.2 Z" fill="#f0e070" opacity="0.9"/>
<g fill="#e4dccb">
<rect x="787.5" y="537.4" width="2.6" height="18.2"/>
<rect x="794.0" y="537.4" width="2.6" height="18.2"/>
<rect x="800.6" y="537.4" width="2.6" height="18.2"/>
<rect x="807.1" y="537.4" width="2.6" height="18.2"/>
<rect x="813.7" y="537.4" width="2.6" height="18.2"/>
<rect x="819.95" y="537.4" width="2.6" height="18.2"/>
</g>
<rect x="784.7" y="555.6" width="41.6" height="3.1" fill="#c4cce0"/>
<g font-family="Liberation Serif, serif" font-weight="bold" fill="#f2f2f8">
<text x="840.2" y="545" textLength="79.8" lengthAdjust="spacingAndGlyphs"><tspan font-size="19.5">D</tspan><tspan font-size="15">OMINION</tspan></text>
<text x="927.3" y="545" textLength="69.2" lengthAdjust="spacingAndGlyphs"><tspan font-size="19.5">L</tspan><tspan font-size="15">ENDING</tspan></text>
<text x="876" y="557.8" font-size="10.8" textLength="84.8" lengthAdjust="spacing">CENTRES</text>
</g>
<rect x="832.4" y="547" width="172" height="1.4" fill="#c8d0f0"/>
</svg>
<!--/LOGO-->
</body></html>
